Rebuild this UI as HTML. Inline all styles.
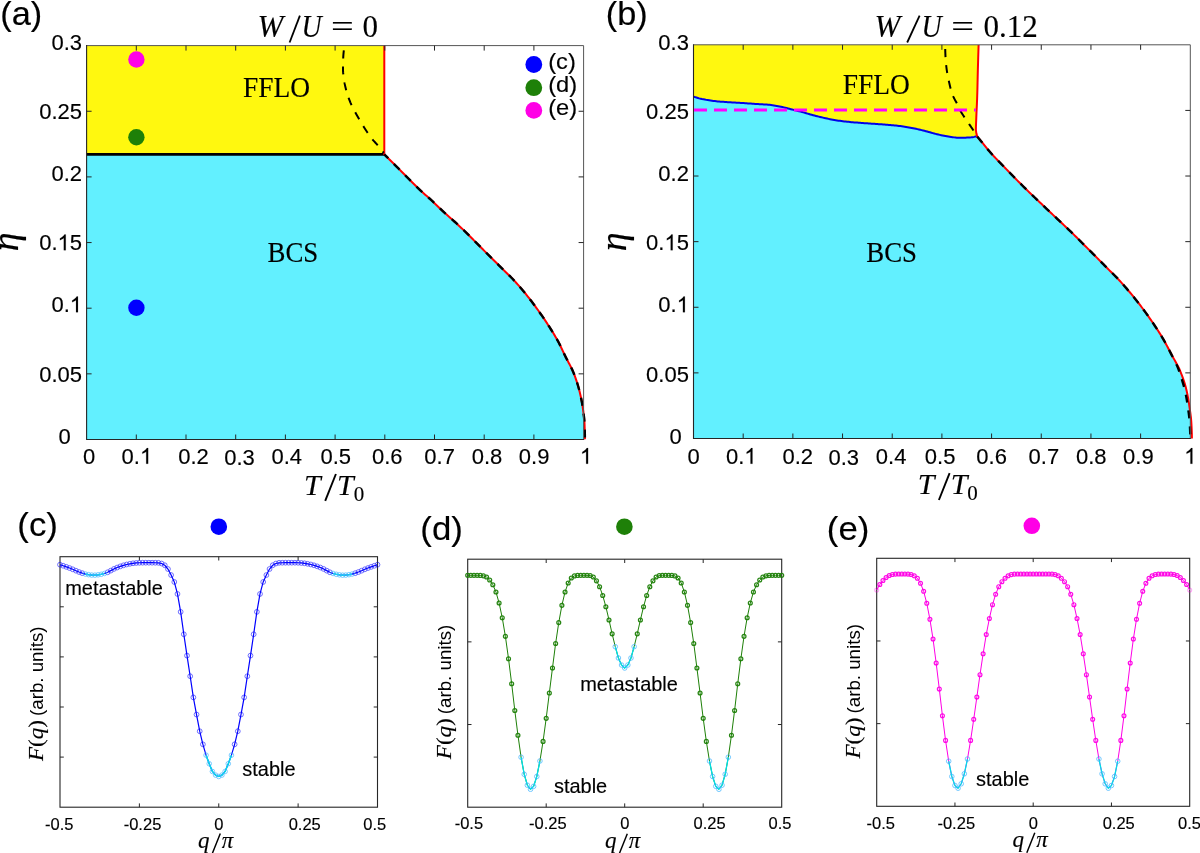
<!DOCTYPE html>
<html><head><meta charset="utf-8"><title>Phase diagram</title>
<style>
html,body{margin:0;padding:0;background:#fff;}
body{width:1200px;height:853px;overflow:hidden;font-family:"Liberation Sans",sans-serif;}
svg{display:block;will-change:transform;}
</style></head><body>
<svg width="1200" height="853" viewBox="0 0 1200 853">
<rect width="1200" height="853" fill="#fff"/>
<g id="pa">
<rect x="86.6" y="45.6" width="297.7" height="108.8" fill="#fff80f"/>
<path d="M86.6 439.5 L86.6 154.4 L384.3 154.4 L385.58 155.67 L386.86 156.94 L388.15 158.21 L389.43 159.48 L390.71 160.75 L391.99 162.02 L393.27 163.3 L394.55 164.57 L395.83 165.84 L397.11 167.11 L398.39 168.39 L399.66 169.66 L400.94 170.94 L402.21 172.23 L403.47 173.51 L404.74 174.8 L406 176.09 L407.27 177.38 L408.53 178.67 L409.8 179.95 L411.07 181.24 L412.34 182.52 L413.62 183.8 L414.9 185.07 L416.18 186.33 L417.48 187.59 L418.78 188.84 L420.08 190.08 L421.41 191.31 L422.74 192.52 L424.09 193.72 L425.44 194.91 L426.8 196.11 L428.15 197.3 L429.5 198.5 L430.84 199.71 L432.17 200.93 L433.48 202.17 L434.78 203.42 L436.08 204.68 L437.37 205.93 L438.67 207.19 L439.96 208.45 L441.27 209.7 L442.58 210.94 L443.9 212.16 L445.24 213.37 L446.59 214.57 L447.94 215.77 L449.3 216.96 L450.66 218.14 L452.01 219.34 L453.36 220.54 L454.7 221.74 L456.03 222.97 L457.35 224.19 L458.67 225.42 L459.99 226.66 L461.3 227.9 L462.61 229.15 L463.91 230.4 L465.21 231.65 L466.5 232.91 L467.79 234.17 L469.07 235.44 L470.34 236.72 L471.61 238 L472.88 239.29 L474.14 240.58 L475.41 241.87 L476.67 243.15 L477.94 244.44 L479.21 245.72 L480.49 246.99 L481.76 248.27 L483.04 249.55 L484.31 250.83 L485.59 252.1 L486.87 253.38 L488.14 254.65 L489.42 255.93 L490.7 257.2 L491.98 258.47 L493.26 259.74 L494.54 261.01 L495.82 262.29 L497.11 263.56 L498.39 264.83 L499.67 266.09 L500.95 267.36 L502.24 268.64 L503.52 269.9 L504.82 271.16 L506.12 272.42 L507.41 273.67 L508.7 274.94 L509.99 276.21 L511.26 277.49 L512.51 278.78 L513.74 280.1 L514.96 281.42 L516.18 282.76 L517.38 284.11 L518.57 285.46 L519.76 286.82 L520.94 288.2 L522.1 289.57 L523.26 290.96 L524.41 292.35 L525.55 293.74 L526.68 295.15 L527.81 296.56 L528.93 297.98 L530.03 299.4 L531.13 300.84 L532.23 302.27 L533.31 303.72 L534.39 305.16 L535.46 306.62 L536.53 308.07 L537.58 309.53 L538.64 311 L539.68 312.47 L540.72 313.95 L541.76 315.43 L542.78 316.91 L543.8 318.4 L544.81 319.9 L545.82 321.4 L546.81 322.91 L547.79 324.42 L548.77 325.94 L549.74 327.46 L550.71 328.98 L551.67 330.51 L552.63 332.05 L553.57 333.59 L554.51 335.13 L555.43 336.68 L556.34 338.25 L557.23 339.81 L558.1 341.39 L558.95 342.98 L559.77 344.58 L560.57 346.19 L561.35 347.82 L562.12 349.46 L562.88 351.1 L563.64 352.73 L564.41 354.37 L565.2 356 L566 357.61 L566.84 359.22 L567.68 360.82 L568.53 362.42 L569.38 364.02 L570.22 365.63 L571.04 367.24 L571.83 368.86 L572.58 370.49 L573.29 372.14 L573.95 373.8 L574.59 375.48 L575.22 377.17 L575.82 378.88 L576.41 380.59 L576.97 382.31 L577.52 384.04 L578.04 385.77 L578.53 387.51 L579.01 389.26 L579.45 391 L579.88 392.75 L580.29 394.5 L580.69 396.26 L581.07 398.03 L581.43 399.81 L581.77 401.58 L582.09 403.36 L582.38 405.14 L582.65 406.92 L582.91 408.71 L583.16 410.49 L583.41 412.28 L583.65 414.08 L583.87 415.87 L584.07 417.67 L584.24 419.47 L584.38 421.27 L584.48 423.06 L584.56 424.86 L584.62 426.66 L584.69 428.47 L584.75 430.27 L584.8 432.07 L584.84 433.88 L584.87 435.68 L584.89 437.49 L584.9 439.3Z" fill="#62f0ff"/>
<line x1="86.6" y1="154.4" x2="384.6" y2="154.4" stroke="#000" stroke-width="2.8"/>
<path d="M384.3 45.6 L384.3 154.4 L385.58 155.67 L386.86 156.94 L388.15 158.21 L389.43 159.48 L390.71 160.75 L391.99 162.02 L393.27 163.3 L394.55 164.57 L395.83 165.84 L397.11 167.11 L398.39 168.39 L399.66 169.66 L400.94 170.94 L402.21 172.23 L403.47 173.51 L404.74 174.8 L406 176.09 L407.27 177.38 L408.53 178.67 L409.8 179.95 L411.07 181.24 L412.34 182.52 L413.62 183.8 L414.9 185.07 L416.18 186.33 L417.48 187.59 L418.78 188.84 L420.08 190.08 L421.41 191.31 L422.74 192.52 L424.09 193.72 L425.44 194.91 L426.8 196.11 L428.15 197.3 L429.5 198.5 L430.84 199.71 L432.17 200.93 L433.48 202.17 L434.78 203.42 L436.08 204.68 L437.37 205.93 L438.67 207.19 L439.96 208.45 L441.27 209.7 L442.58 210.94 L443.9 212.16 L445.24 213.37 L446.59 214.57 L447.94 215.77 L449.3 216.96 L450.66 218.14 L452.01 219.34 L453.36 220.54 L454.7 221.74 L456.03 222.97 L457.35 224.19 L458.67 225.42 L459.99 226.66 L461.3 227.9 L462.61 229.15 L463.91 230.4 L465.21 231.65 L466.5 232.91 L467.79 234.17 L469.07 235.44 L470.34 236.72 L471.61 238 L472.88 239.29 L474.14 240.58 L475.41 241.87 L476.67 243.15 L477.94 244.44 L479.21 245.72 L480.49 246.99 L481.76 248.27 L483.04 249.55 L484.31 250.83 L485.59 252.1 L486.87 253.38 L488.14 254.65 L489.42 255.93 L490.7 257.2 L491.98 258.47 L493.26 259.74 L494.54 261.01 L495.82 262.29 L497.11 263.56 L498.39 264.83 L499.67 266.09 L500.95 267.36 L502.24 268.64 L503.52 269.9 L504.82 271.16 L506.12 272.42 L507.41 273.67 L508.7 274.94 L509.99 276.21 L511.26 277.49 L512.51 278.78 L513.74 280.1 L514.96 281.42 L516.18 282.76 L517.38 284.11 L518.57 285.46 L519.76 286.82 L520.94 288.2 L522.1 289.57 L523.26 290.96 L524.41 292.35 L525.55 293.74 L526.68 295.15 L527.81 296.56 L528.93 297.98 L530.03 299.4 L531.13 300.84 L532.23 302.27 L533.31 303.72 L534.39 305.16 L535.46 306.62 L536.53 308.07 L537.58 309.53 L538.64 311 L539.68 312.47 L540.72 313.95 L541.76 315.43 L542.78 316.91 L543.8 318.4 L544.81 319.9 L545.82 321.4 L546.81 322.91 L547.79 324.42 L548.77 325.94 L549.74 327.46 L550.71 328.98 L551.67 330.51 L552.63 332.05 L553.57 333.59 L554.51 335.13 L555.43 336.68 L556.34 338.25 L557.23 339.81 L558.1 341.39 L558.95 342.98 L559.77 344.58 L560.57 346.19 L561.35 347.82 L562.12 349.46 L562.88 351.1 L563.64 352.73 L564.41 354.37 L565.2 356 L566 357.61 L566.84 359.22 L567.68 360.82 L568.53 362.42 L569.38 364.02 L570.22 365.63 L571.04 367.24 L571.83 368.86 L572.58 370.49 L573.29 372.14 L573.95 373.8 L574.59 375.48 L575.22 377.17 L575.82 378.88 L576.41 380.59 L576.97 382.31 L577.52 384.04 L578.04 385.77 L578.53 387.51 L579.01 389.26 L579.45 391 L579.88 392.75 L580.29 394.5 L580.69 396.26 L581.07 398.03 L581.43 399.81 L581.77 401.58 L582.09 403.36 L582.38 405.14 L582.65 406.92 L582.91 408.71 L583.16 410.49 L583.41 412.28 L583.65 414.08 L583.87 415.87 L584.07 417.67 L584.24 419.47 L584.38 421.27 L584.48 423.06 L584.56 424.86 L584.62 426.66 L584.69 428.47 L584.75 430.27 L584.8 432.07 L584.84 433.88 L584.87 435.68 L584.89 437.49 L584.9 439.3" fill="none" stroke="#ff0000" stroke-width="2" stroke-linejoin="round"/>
<path d="M384.3 154.4 L385.58 155.67 L386.86 156.94 L388.15 158.21 L389.43 159.48 L390.71 160.75 L391.99 162.02 L393.27 163.3 L394.55 164.57 L395.83 165.84 L397.11 167.11 L398.39 168.39 L399.66 169.66 L400.94 170.94 L402.21 172.23 L403.47 173.51 L404.74 174.8 L406 176.09 L407.27 177.38 L408.53 178.67 L409.8 179.95 L411.07 181.24 L412.34 182.52 L413.62 183.8 L414.9 185.07 L416.18 186.33 L417.48 187.59 L418.78 188.84 L420.08 190.08 L421.41 191.31 L422.74 192.52 L424.09 193.72 L425.44 194.91 L426.8 196.11 L428.15 197.3 L429.5 198.5 L430.84 199.71 L432.17 200.93 L433.48 202.17 L434.78 203.42 L436.08 204.68 L437.37 205.93 L438.67 207.19 L439.96 208.45 L441.27 209.7 L442.58 210.94 L443.9 212.16 L445.24 213.37 L446.59 214.57 L447.94 215.77 L449.3 216.96 L450.66 218.14 L452.01 219.34 L453.36 220.54 L454.7 221.74 L456.03 222.97 L457.35 224.19 L458.67 225.42 L459.99 226.66 L461.3 227.9 L462.61 229.15 L463.91 230.4 L465.21 231.65 L466.5 232.91 L467.79 234.17 L469.07 235.44 L470.34 236.72 L471.61 238 L472.88 239.29 L474.14 240.58 L475.41 241.87 L476.67 243.15 L477.94 244.44 L479.21 245.72 L480.49 246.99 L481.76 248.27 L483.04 249.55 L484.31 250.83 L485.59 252.1 L486.87 253.38 L488.14 254.65 L489.42 255.93 L490.7 257.2 L491.98 258.47 L493.26 259.74 L494.54 261.01 L495.82 262.29 L497.11 263.56 L498.39 264.83 L499.67 266.09 L500.95 267.36 L502.24 268.64 L503.52 269.9 L504.82 271.16 L506.12 272.42 L507.41 273.67 L508.7 274.94 L509.99 276.21 L511.26 277.49 L512.51 278.78 L513.74 280.1 L514.96 281.42 L516.18 282.76 L517.38 284.11 L518.57 285.46 L519.76 286.82 L520.94 288.2 L522.1 289.57 L523.26 290.96 L524.41 292.35 L525.55 293.74 L526.68 295.15 L527.81 296.56 L528.93 297.98 L530.03 299.4 L531.13 300.84 L532.23 302.27 L533.31 303.72 L534.39 305.16 L535.46 306.62 L536.53 308.07 L537.58 309.53 L538.64 311 L539.68 312.47 L540.72 313.95 L541.76 315.43 L542.78 316.91 L543.8 318.4 L544.81 319.9 L545.82 321.4 L546.81 322.91 L547.79 324.42 L548.77 325.94 L549.74 327.46 L550.71 328.98 L551.67 330.51 L552.63 332.05 L553.57 333.59 L554.51 335.13 L555.43 336.68 L556.34 338.25 L557.23 339.81 L558.1 341.39 L558.95 342.98 L559.77 344.58 L560.57 346.19 L561.35 347.82 L562.12 349.46 L562.88 351.1 L563.64 352.73 L564.41 354.37 L565.2 356 L566 357.61 L566.84 359.22 L567.68 360.82 L568.53 362.42 L569.38 364.02 L570.22 365.63 L571.04 367.24 L571.83 368.86 L572.58 370.49 L573.29 372.14 L573.95 373.8 L574.59 375.48 L575.22 377.17 L575.82 378.88 L576.41 380.59 L576.97 382.31 L577.52 384.04 L578.04 385.77 L578.53 387.51 L579.01 389.26 L579.45 391 L579.88 392.75 L580.29 394.5 L580.69 396.26 L581.07 398.03 L581.43 399.81 L581.77 401.58 L582.09 403.36 L582.38 405.14 L582.65 406.92 L582.91 408.71 L583.16 410.49 L583.41 412.28 L583.65 414.08 L583.87 415.87 L584.07 417.67 L584.24 419.47 L584.38 421.27 L584.48 423.06 L584.56 424.86 L584.62 426.66 L584.69 428.47 L584.75 430.27 L584.8 432.07 L584.84 433.88 L584.87 435.68 L584.89 437.49 L584.9 439.3" fill="none" stroke="#000" stroke-width="2.4" stroke-dasharray="8 8" stroke-dashoffset="2.5"/>
<path d="M344.3 47 L344.1 48.47 L343.91 49.94 L343.73 51.42 L343.57 52.89 L343.43 54.37 L343.32 55.85 L343.24 57.32 L343.18 58.8 L343.14 60.28 L343.1 61.76 L343.07 63.25 L343.04 64.73 L343.02 66.21 L343.01 67.69 L343 69.17 L343.02 70.65 L343.1 72.13 L343.23 73.61 L343.39 75.09 L343.57 76.56 L343.77 78.04 L343.98 79.51 L344.2 80.97 L344.43 82.43 L344.7 83.89 L345.01 85.34 L345.34 86.79 L345.7 88.23 L346.06 89.66 L346.45 91.09 L346.86 92.51 L347.29 93.94 L347.75 95.35 L348.23 96.76 L348.72 98.16 L349.24 99.55 L349.77 100.93 L350.32 102.29 L350.91 103.65 L351.52 104.99 L352.17 106.33 L352.83 107.66 L353.51 108.98 L354.21 110.29 L354.91 111.6 L355.62 112.91 L356.33 114.21 L357.04 115.51 L357.76 116.8 L358.49 118.09 L359.23 119.38 L359.97 120.66 L360.73 121.94 L361.5 123.21 L362.27 124.48 L363.05 125.74 L363.84 126.99 L364.64 128.24 L365.45 129.48 L366.27 130.71 L367.1 131.94 L367.94 133.17 L368.79 134.38 L369.65 135.59 L370.53 136.78 L371.42 137.97 L372.33 139.14 L373.26 140.28 L374.23 141.4 L375.23 142.5 L376.23 143.6 L377.22 144.7 L378.18 145.83 L379.12 146.97 L380.06 148.12 L380.98 149.28 L381.9 150.44 L382.8 151.62 L383.7 152.8" fill="none" stroke="#000" stroke-width="2" stroke-dasharray="8 8" stroke-dashoffset="12.5"/>
</g>
<path d="M86.6 45.6H583.6V439.5" fill="none" stroke="#555" stroke-width="1"/>
<path d="M86.6 45.6V439.5H583.6" fill="none" stroke="#262626" stroke-width="1.1" stroke-linecap="square"/>
<path d="M136.3 439.5v-5M136.3 45.6v5M186 439.5v-5M186 45.6v5M235.7 439.5v-5M235.7 45.6v5M285.4 439.5v-5M285.4 45.6v5M335.1 439.5v-5M335.1 45.6v5M384.8 439.5v-5M384.8 45.6v5M434.5 439.5v-5M434.5 45.6v5M484.2 439.5v-5M484.2 45.6v5M533.9 439.5v-5M533.9 45.6v5M86.6 373.85h5M583.6 373.85h-5M86.6 308.2h5M583.6 308.2h-5M86.6 242.55h5M583.6 242.55h-5M86.6 176.9h5M583.6 176.9h-5M86.6 111.25h5M583.6 111.25h-5" stroke="#262626" stroke-width="1" fill="none"/>
<circle cx="136.4" cy="59.5" r="8.2" fill="#ff00e6"/>
<circle cx="136.4" cy="137.3" r="8.2" fill="#1e8008"/>
<circle cx="136.4" cy="307.8" r="8.2" fill="#0000ff"/>
<circle cx="533.8" cy="64.5" r="8.4" fill="#0000ff"/>
<circle cx="533.8" cy="87.7" r="8.4" fill="#1e8008"/>
<circle cx="533.8" cy="110.4" r="8.4" fill="#ff00e6"/>
<text x="0" y="0" font-family='"Liberation Sans", sans-serif' font-size="21.5" text-anchor="start" transform="translate(548.2 68.7) scale(1.1 1)" fill="#000" stroke="#000" stroke-width="0.15">(c)</text>
<text x="0" y="0" font-family='"Liberation Sans", sans-serif' font-size="21.5" text-anchor="start" transform="translate(548.2 92.1) scale(1.1 1)" fill="#000" stroke="#000" stroke-width="0.15">(d)</text>
<text x="0" y="0" font-family='"Liberation Sans", sans-serif' font-size="21.5" text-anchor="start" transform="translate(548.2 114.6) scale(1.1 1)" fill="#000" stroke="#000" stroke-width="0.15">(e)</text>
<g id="pb">
<path d="M693.5 44.8 L693.7 96.7 L695.08 97.14 L696.47 97.57 L697.86 97.97 L699.25 98.36 L700.65 98.71 L702.05 99.04 L703.46 99.33 L704.87 99.6 L706.29 99.86 L707.71 100.1 L709.14 100.33 L710.57 100.54 L712.01 100.75 L713.44 100.93 L714.88 101.1 L716.31 101.26 L717.75 101.4 L719.18 101.53 L720.62 101.65 L722.06 101.76 L723.5 101.87 L724.94 101.97 L726.38 102.06 L727.83 102.16 L729.27 102.25 L730.71 102.35 L732.15 102.44 L733.59 102.53 L735.03 102.61 L736.47 102.7 L737.91 102.78 L739.36 102.86 L740.8 102.95 L742.24 103.03 L743.68 103.12 L745.12 103.22 L746.56 103.31 L748 103.41 L749.44 103.51 L750.88 103.6 L752.32 103.7 L753.76 103.8 L755.21 103.9 L756.65 104 L758.09 104.09 L759.53 104.18 L760.97 104.26 L762.42 104.34 L763.86 104.43 L765.3 104.52 L766.74 104.62 L768.18 104.74 L769.61 104.86 L771.05 105.01 L772.48 105.2 L773.9 105.42 L775.33 105.66 L776.75 105.92 L778.17 106.2 L779.59 106.48 L781 106.76 L782.41 107.06 L783.82 107.39 L785.22 107.74 L786.62 108.09 L788.02 108.46 L789.42 108.82 L790.82 109.18 L792.22 109.53 L793.62 109.87 L795.02 110.22 L796.43 110.57 L797.83 110.92 L799.23 111.27 L800.62 111.63 L802.02 112.01 L803.41 112.39 L804.8 112.79 L806.18 113.2 L807.57 113.62 L808.95 114.03 L810.33 114.44 L811.72 114.83 L813.12 115.21 L814.51 115.58 L815.91 115.94 L817.31 116.29 L818.72 116.63 L820.12 116.97 L821.53 117.3 L822.93 117.62 L824.34 117.93 L825.75 118.25 L827.16 118.56 L828.58 118.87 L829.99 119.17 L831.41 119.46 L832.82 119.74 L834.24 120 L835.67 120.24 L837.09 120.46 L838.52 120.67 L839.95 120.86 L841.38 121.05 L842.81 121.23 L844.25 121.4 L845.68 121.56 L847.12 121.71 L848.56 121.86 L849.99 122 L851.43 122.13 L852.87 122.26 L854.31 122.38 L855.75 122.5 L857.19 122.61 L858.63 122.72 L860.07 122.82 L861.51 122.93 L862.95 123.03 L864.39 123.13 L865.83 123.23 L867.27 123.34 L868.71 123.44 L870.15 123.55 L871.59 123.65 L873.03 123.75 L874.47 123.85 L875.91 123.95 L877.35 124.05 L878.79 124.15 L880.23 124.25 L881.67 124.36 L883.11 124.47 L884.55 124.58 L885.99 124.69 L887.43 124.8 L888.87 124.92 L890.31 125.03 L891.75 125.16 L893.19 125.29 L894.63 125.43 L896.06 125.57 L897.49 125.73 L898.93 125.91 L900.36 126.1 L901.79 126.3 L903.22 126.51 L904.65 126.73 L906.07 126.96 L907.5 127.2 L908.92 127.44 L910.34 127.69 L911.76 127.95 L913.18 128.23 L914.59 128.52 L916 128.82 L917.41 129.14 L918.82 129.46 L920.23 129.79 L921.63 130.13 L923.04 130.47 L924.44 130.81 L925.84 131.16 L927.23 131.54 L928.63 131.92 L930.02 132.32 L931.41 132.72 L932.8 133.12 L934.19 133.51 L935.58 133.88 L936.98 134.24 L938.38 134.57 L939.79 134.89 L941.2 135.2 L942.61 135.51 L944.03 135.81 L945.45 136.09 L946.87 136.35 L948.29 136.58 L949.72 136.79 L951.15 136.98 L952.58 137.19 L954.02 137.38 L955.45 137.55 L956.89 137.69 L958.33 137.77 L959.77 137.8 L961.21 137.79 L962.66 137.77 L964.11 137.73 L965.55 137.68 L967 137.62 L968.44 137.55 L969.87 137.48 L971.3 137.34 L972.73 137.14 L974.16 136.89 L975.58 136.6 L977 136.3 L977.2 136.4 L976.34 133.32 L975.9 130.22 L975.94 127.08 L976.04 123.92 L976.17 120.76 L976.29 117.59 L976.42 114.44 L976.55 111.28 L976.7 108.13 L976.85 104.97 L976.99 101.82 L977.12 98.66 L977.22 95.51 L977.32 92.35 L977.4 89.19 L977.48 86.04 L977.55 82.88 L977.62 79.72 L977.69 76.57 L977.76 73.41 L977.84 70.25 L977.93 67.09 L978.02 63.94 L978.11 60.78 L978.2 57.63 L978.3 54.47 L978.4 51.31 L978.5 48.16 L978.6 45Z" fill="#fff80f"/>
<path d="M693.5 438.5 L693.7 96.7 L695.08 97.14 L696.47 97.57 L697.86 97.97 L699.25 98.36 L700.65 98.71 L702.05 99.04 L703.46 99.33 L704.87 99.6 L706.29 99.86 L707.71 100.1 L709.14 100.33 L710.57 100.54 L712.01 100.75 L713.44 100.93 L714.88 101.1 L716.31 101.26 L717.75 101.4 L719.18 101.53 L720.62 101.65 L722.06 101.76 L723.5 101.87 L724.94 101.97 L726.38 102.06 L727.83 102.16 L729.27 102.25 L730.71 102.35 L732.15 102.44 L733.59 102.53 L735.03 102.61 L736.47 102.7 L737.91 102.78 L739.36 102.86 L740.8 102.95 L742.24 103.03 L743.68 103.12 L745.12 103.22 L746.56 103.31 L748 103.41 L749.44 103.51 L750.88 103.6 L752.32 103.7 L753.76 103.8 L755.21 103.9 L756.65 104 L758.09 104.09 L759.53 104.18 L760.97 104.26 L762.42 104.34 L763.86 104.43 L765.3 104.52 L766.74 104.62 L768.18 104.74 L769.61 104.86 L771.05 105.01 L772.48 105.2 L773.9 105.42 L775.33 105.66 L776.75 105.92 L778.17 106.2 L779.59 106.48 L781 106.76 L782.41 107.06 L783.82 107.39 L785.22 107.74 L786.62 108.09 L788.02 108.46 L789.42 108.82 L790.82 109.18 L792.22 109.53 L793.62 109.87 L795.02 110.22 L796.43 110.57 L797.83 110.92 L799.23 111.27 L800.62 111.63 L802.02 112.01 L803.41 112.39 L804.8 112.79 L806.18 113.2 L807.57 113.62 L808.95 114.03 L810.33 114.44 L811.72 114.83 L813.12 115.21 L814.51 115.58 L815.91 115.94 L817.31 116.29 L818.72 116.63 L820.12 116.97 L821.53 117.3 L822.93 117.62 L824.34 117.93 L825.75 118.25 L827.16 118.56 L828.58 118.87 L829.99 119.17 L831.41 119.46 L832.82 119.74 L834.24 120 L835.67 120.24 L837.09 120.46 L838.52 120.67 L839.95 120.86 L841.38 121.05 L842.81 121.23 L844.25 121.4 L845.68 121.56 L847.12 121.71 L848.56 121.86 L849.99 122 L851.43 122.13 L852.87 122.26 L854.31 122.38 L855.75 122.5 L857.19 122.61 L858.63 122.72 L860.07 122.82 L861.51 122.93 L862.95 123.03 L864.39 123.13 L865.83 123.23 L867.27 123.34 L868.71 123.44 L870.15 123.55 L871.59 123.65 L873.03 123.75 L874.47 123.85 L875.91 123.95 L877.35 124.05 L878.79 124.15 L880.23 124.25 L881.67 124.36 L883.11 124.47 L884.55 124.58 L885.99 124.69 L887.43 124.8 L888.87 124.92 L890.31 125.03 L891.75 125.16 L893.19 125.29 L894.63 125.43 L896.06 125.57 L897.49 125.73 L898.93 125.91 L900.36 126.1 L901.79 126.3 L903.22 126.51 L904.65 126.73 L906.07 126.96 L907.5 127.2 L908.92 127.44 L910.34 127.69 L911.76 127.95 L913.18 128.23 L914.59 128.52 L916 128.82 L917.41 129.14 L918.82 129.46 L920.23 129.79 L921.63 130.13 L923.04 130.47 L924.44 130.81 L925.84 131.16 L927.23 131.54 L928.63 131.92 L930.02 132.32 L931.41 132.72 L932.8 133.12 L934.19 133.51 L935.58 133.88 L936.98 134.24 L938.38 134.57 L939.79 134.89 L941.2 135.2 L942.61 135.51 L944.03 135.81 L945.45 136.09 L946.87 136.35 L948.29 136.58 L949.72 136.79 L951.15 136.98 L952.58 137.19 L954.02 137.38 L955.45 137.55 L956.89 137.69 L958.33 137.77 L959.77 137.8 L961.21 137.79 L962.66 137.77 L964.11 137.73 L965.55 137.68 L967 137.62 L968.44 137.55 L969.87 137.48 L971.3 137.34 L972.73 137.14 L974.16 136.89 L975.58 136.6 L977 136.3 L977.2 136.6 L978.44 138.06 L979.68 139.52 L980.9 140.99 L982.12 142.47 L983.32 143.96 L984.52 145.45 L985.72 146.94 L986.93 148.42 L988.16 149.89 L989.4 151.33 L990.67 152.76 L991.95 154.18 L993.24 155.59 L994.55 156.99 L995.86 158.38 L997.18 159.77 L998.5 161.15 L999.84 162.53 L1001.17 163.9 L1002.51 165.27 L1003.85 166.64 L1005.19 168.01 L1006.53 169.38 L1007.86 170.75 L1009.19 172.12 L1010.53 173.49 L1011.86 174.86 L1013.2 176.23 L1014.54 177.6 L1015.88 178.97 L1017.22 180.33 L1018.56 181.69 L1019.91 183.05 L1021.26 184.4 L1022.61 185.76 L1023.97 187.11 L1025.33 188.45 L1026.69 189.8 L1028.06 191.13 L1029.43 192.47 L1030.81 193.79 L1032.19 195.11 L1033.58 196.43 L1034.97 197.75 L1036.35 199.07 L1037.74 200.39 L1039.13 201.71 L1040.51 203.03 L1041.9 204.34 L1043.29 205.66 L1044.67 206.98 L1046.06 208.3 L1047.45 209.61 L1048.84 210.93 L1050.23 212.24 L1051.62 213.55 L1053.02 214.86 L1054.41 216.17 L1055.81 217.48 L1057.2 218.79 L1058.6 220.1 L1059.99 221.41 L1061.38 222.73 L1062.77 224.04 L1064.16 225.36 L1065.55 226.68 L1066.93 227.99 L1068.32 229.31 L1069.7 230.64 L1071.08 231.96 L1072.46 233.29 L1073.83 234.63 L1075.19 235.97 L1076.55 237.31 L1077.9 238.67 L1079.25 240.02 L1080.6 241.38 L1081.95 242.74 L1083.3 244.09 L1084.65 245.45 L1086 246.8 L1087.36 248.15 L1088.71 249.51 L1090.06 250.86 L1091.42 252.21 L1092.77 253.56 L1094.12 254.92 L1095.48 256.27 L1096.83 257.62 L1098.18 258.98 L1099.52 260.34 L1100.87 261.7 L1102.22 263.06 L1103.56 264.42 L1104.91 265.78 L1106.25 267.14 L1107.6 268.49 L1108.95 269.85 L1110.31 271.2 L1111.67 272.55 L1113.04 273.89 L1114.4 275.23 L1115.75 276.59 L1117.08 277.96 L1118.39 279.35 L1119.69 280.75 L1120.98 282.16 L1122.26 283.58 L1123.54 285.01 L1124.8 286.45 L1126.06 287.9 L1127.3 289.35 L1128.54 290.81 L1129.78 292.27 L1131 293.73 L1132.22 295.21 L1133.44 296.69 L1134.64 298.18 L1135.84 299.67 L1137.03 301.17 L1138.21 302.68 L1139.38 304.19 L1140.55 305.71 L1141.7 307.23 L1142.85 308.76 L1143.99 310.3 L1145.12 311.84 L1146.25 313.39 L1147.37 314.94 L1148.48 316.5 L1149.58 318.07 L1150.67 319.64 L1151.76 321.21 L1152.83 322.79 L1153.9 324.38 L1154.96 325.97 L1156.02 327.57 L1157.07 329.17 L1158.11 330.77 L1159.15 332.39 L1160.17 334.01 L1161.17 335.64 L1162.16 337.27 L1163.13 338.92 L1164.09 340.57 L1165.02 342.24 L1165.94 343.92 L1166.84 345.61 L1167.73 347.3 L1168.62 349 L1169.5 350.7 L1170.38 352.39 L1171.28 354.09 L1172.18 355.78 L1173.11 357.45 L1174.05 359.13 L1175 360.8 L1175.95 362.48 L1176.87 364.16 L1177.77 365.85 L1178.63 367.55 L1179.44 369.27 L1180.19 371.01 L1180.9 372.78 L1181.6 374.55 L1182.28 376.35 L1182.93 378.15 L1183.56 379.97 L1184.17 381.8 L1184.74 383.63 L1185.28 385.48 L1185.79 387.32 L1186.25 389.17 L1186.68 391.02 L1187.08 392.89 L1187.46 394.76 L1187.83 396.64 L1188.17 398.52 L1188.49 400.42 L1188.8 402.31 L1189.1 404.21 L1189.37 406.1 L1189.64 407.99 L1189.9 409.89 L1190.17 411.79 L1190.42 413.68 L1190.66 415.59 L1190.89 417.49 L1191.08 419.39 L1191.25 421.3 L1191.38 423.2 L1191.48 425.11 L1191.57 427.02 L1191.66 428.93 L1191.74 430.84 L1191.8 432.75 L1191.86 434.67 L1191.89 436.58 L1191.9 438.5Z" fill="#62f0ff"/>
<path d="M693.7 96.7 L695.08 97.14 L696.47 97.57 L697.86 97.97 L699.25 98.36 L700.65 98.71 L702.05 99.04 L703.46 99.33 L704.87 99.6 L706.29 99.86 L707.71 100.1 L709.14 100.33 L710.57 100.54 L712.01 100.75 L713.44 100.93 L714.88 101.1 L716.31 101.26 L717.75 101.4 L719.18 101.53 L720.62 101.65 L722.06 101.76 L723.5 101.87 L724.94 101.97 L726.38 102.06 L727.83 102.16 L729.27 102.25 L730.71 102.35 L732.15 102.44 L733.59 102.53 L735.03 102.61 L736.47 102.7 L737.91 102.78 L739.36 102.86 L740.8 102.95 L742.24 103.03 L743.68 103.12 L745.12 103.22 L746.56 103.31 L748 103.41 L749.44 103.51 L750.88 103.6 L752.32 103.7 L753.76 103.8 L755.21 103.9 L756.65 104 L758.09 104.09 L759.53 104.18 L760.97 104.26 L762.42 104.34 L763.86 104.43 L765.3 104.52 L766.74 104.62 L768.18 104.74 L769.61 104.86 L771.05 105.01 L772.48 105.2 L773.9 105.42 L775.33 105.66 L776.75 105.92 L778.17 106.2 L779.59 106.48 L781 106.76 L782.41 107.06 L783.82 107.39 L785.22 107.74 L786.62 108.09 L788.02 108.46 L789.42 108.82 L790.82 109.18 L792.22 109.53 L793.62 109.87 L795.02 110.22 L796.43 110.57 L797.83 110.92 L799.23 111.27 L800.62 111.63 L802.02 112.01 L803.41 112.39 L804.8 112.79 L806.18 113.2 L807.57 113.62 L808.95 114.03 L810.33 114.44 L811.72 114.83 L813.12 115.21 L814.51 115.58 L815.91 115.94 L817.31 116.29 L818.72 116.63 L820.12 116.97 L821.53 117.3 L822.93 117.62 L824.34 117.93 L825.75 118.25 L827.16 118.56 L828.58 118.87 L829.99 119.17 L831.41 119.46 L832.82 119.74 L834.24 120 L835.67 120.24 L837.09 120.46 L838.52 120.67 L839.95 120.86 L841.38 121.05 L842.81 121.23 L844.25 121.4 L845.68 121.56 L847.12 121.71 L848.56 121.86 L849.99 122 L851.43 122.13 L852.87 122.26 L854.31 122.38 L855.75 122.5 L857.19 122.61 L858.63 122.72 L860.07 122.82 L861.51 122.93 L862.95 123.03 L864.39 123.13 L865.83 123.23 L867.27 123.34 L868.71 123.44 L870.15 123.55 L871.59 123.65 L873.03 123.75 L874.47 123.85 L875.91 123.95 L877.35 124.05 L878.79 124.15 L880.23 124.25 L881.67 124.36 L883.11 124.47 L884.55 124.58 L885.99 124.69 L887.43 124.8 L888.87 124.92 L890.31 125.03 L891.75 125.16 L893.19 125.29 L894.63 125.43 L896.06 125.57 L897.49 125.73 L898.93 125.91 L900.36 126.1 L901.79 126.3 L903.22 126.51 L904.65 126.73 L906.07 126.96 L907.5 127.2 L908.92 127.44 L910.34 127.69 L911.76 127.95 L913.18 128.23 L914.59 128.52 L916 128.82 L917.41 129.14 L918.82 129.46 L920.23 129.79 L921.63 130.13 L923.04 130.47 L924.44 130.81 L925.84 131.16 L927.23 131.54 L928.63 131.92 L930.02 132.32 L931.41 132.72 L932.8 133.12 L934.19 133.51 L935.58 133.88 L936.98 134.24 L938.38 134.57 L939.79 134.89 L941.2 135.2 L942.61 135.51 L944.03 135.81 L945.45 136.09 L946.87 136.35 L948.29 136.58 L949.72 136.79 L951.15 136.98 L952.58 137.19 L954.02 137.38 L955.45 137.55 L956.89 137.69 L958.33 137.77 L959.77 137.8 L961.21 137.79 L962.66 137.77 L964.11 137.73 L965.55 137.68 L967 137.62 L968.44 137.55 L969.87 137.48 L971.3 137.34 L972.73 137.14 L974.16 136.89 L975.58 136.6 L977 136.3" fill="none" stroke="#0000e8" stroke-width="2"/>
<path d="M945.2 46.5 L945.21 47.72 L945.22 48.95 L945.25 50.17 L945.28 51.39 L945.32 52.62 L945.37 53.84 L945.42 55.06 L945.47 56.28 L945.53 57.5 L945.6 58.72 L945.68 59.94 L945.78 61.16 L945.88 62.38 L946 63.6 L946.13 64.82 L946.26 66.03 L946.4 67.25 L946.54 68.46 L946.7 69.67 L946.88 70.88 L947.07 72.08 L947.28 73.29 L947.49 74.5 L947.72 75.7 L947.96 76.9 L948.21 78.1 L948.47 79.3 L948.72 80.5 L948.99 81.69 L949.25 82.88 L949.52 84.07 L949.8 85.27 L950.09 86.46 L950.39 87.66 L950.71 88.85 L951.04 90.03 L951.38 91.21 L951.74 92.37 L952.12 93.53 L952.52 94.67 L952.95 95.8 L953.44 96.91 L953.98 98 L954.55 99.09 L955.14 100.17 L955.73 101.25 L956.31 102.34 L956.86 103.43 L957.4 104.53 L957.93 105.63 L958.45 106.74 L958.98 107.85 L959.51 108.95 L960.06 110.04 L960.63 111.12 L961.22 112.18 L961.84 113.23 L962.48 114.27 L963.14 115.3 L963.81 116.32 L964.5 117.34 L965.19 118.35 L965.88 119.36 L966.57 120.37 L967.26 121.39 L967.94 122.4 L968.63 123.41 L969.32 124.42 L970.02 125.43 L970.72 126.43 L971.41 127.44 L972.11 128.44 L972.8 129.45 L973.48 130.47 L974.15 131.49 L974.82 132.51 L975.49 133.54 L976.14 134.57 L976.8 135.6" fill="none" stroke="#000" stroke-width="2" stroke-dasharray="8 8" stroke-dashoffset="13.4"/>
<path d="M978.6 45 L978.5 48.16 L978.4 51.31 L978.3 54.47 L978.2 57.63 L978.11 60.78 L978.02 63.94 L977.93 67.09 L977.84 70.25 L977.76 73.41 L977.69 76.57 L977.62 79.72 L977.55 82.88 L977.48 86.04 L977.4 89.19 L977.32 92.35 L977.22 95.51 L977.12 98.66 L976.99 101.82 L976.85 104.97 L976.7 108.13 L976.55 111.28 L976.42 114.44 L976.29 117.59 L976.17 120.76 L976.04 123.92 L975.94 127.08 L975.9 130.22 L976.34 133.32 L977.2 136.4 L977.2 136.6 L978.44 138.06 L979.68 139.52 L980.9 140.99 L982.12 142.47 L983.32 143.96 L984.52 145.45 L985.72 146.94 L986.93 148.42 L988.16 149.89 L989.4 151.33 L990.67 152.76 L991.95 154.18 L993.24 155.59 L994.55 156.99 L995.86 158.38 L997.18 159.77 L998.5 161.15 L999.84 162.53 L1001.17 163.9 L1002.51 165.27 L1003.85 166.64 L1005.19 168.01 L1006.53 169.38 L1007.86 170.75 L1009.19 172.12 L1010.53 173.49 L1011.86 174.86 L1013.2 176.23 L1014.54 177.6 L1015.88 178.97 L1017.22 180.33 L1018.56 181.69 L1019.91 183.05 L1021.26 184.4 L1022.61 185.76 L1023.97 187.11 L1025.33 188.45 L1026.69 189.8 L1028.06 191.13 L1029.43 192.47 L1030.81 193.79 L1032.19 195.11 L1033.58 196.43 L1034.97 197.75 L1036.35 199.07 L1037.74 200.39 L1039.13 201.71 L1040.51 203.03 L1041.9 204.34 L1043.29 205.66 L1044.67 206.98 L1046.06 208.3 L1047.45 209.61 L1048.84 210.93 L1050.23 212.24 L1051.62 213.55 L1053.02 214.86 L1054.41 216.17 L1055.81 217.48 L1057.2 218.79 L1058.6 220.1 L1059.99 221.41 L1061.38 222.73 L1062.77 224.04 L1064.16 225.36 L1065.55 226.68 L1066.93 227.99 L1068.32 229.31 L1069.7 230.64 L1071.08 231.96 L1072.46 233.29 L1073.83 234.63 L1075.19 235.97 L1076.55 237.31 L1077.9 238.67 L1079.25 240.02 L1080.6 241.38 L1081.95 242.74 L1083.3 244.09 L1084.65 245.45 L1086 246.8 L1087.36 248.15 L1088.71 249.51 L1090.06 250.86 L1091.42 252.21 L1092.77 253.56 L1094.12 254.92 L1095.48 256.27 L1096.83 257.62 L1098.18 258.98 L1099.52 260.34 L1100.87 261.7 L1102.22 263.06 L1103.56 264.42 L1104.91 265.78 L1106.25 267.14 L1107.6 268.49 L1108.95 269.85 L1110.31 271.2 L1111.67 272.55 L1113.04 273.89 L1114.4 275.23 L1115.75 276.59 L1117.08 277.96 L1118.39 279.35 L1119.69 280.75 L1120.98 282.16 L1122.26 283.58 L1123.54 285.01 L1124.8 286.45 L1126.06 287.9 L1127.3 289.35 L1128.54 290.81 L1129.78 292.27 L1131 293.73 L1132.22 295.21 L1133.44 296.69 L1134.64 298.18 L1135.84 299.67 L1137.03 301.17 L1138.21 302.68 L1139.38 304.19 L1140.55 305.71 L1141.7 307.23 L1142.85 308.76 L1143.99 310.3 L1145.12 311.84 L1146.25 313.39 L1147.37 314.94 L1148.48 316.5 L1149.58 318.07 L1150.67 319.64 L1151.76 321.21 L1152.83 322.79 L1153.9 324.38 L1154.96 325.97 L1156.02 327.57 L1157.07 329.17 L1158.11 330.77 L1159.15 332.39 L1160.17 334.01 L1161.17 335.64 L1162.16 337.27 L1163.13 338.92 L1164.09 340.57 L1165.02 342.24 L1165.94 343.92 L1166.84 345.61 L1167.73 347.3 L1168.62 349 L1169.5 350.7 L1170.38 352.39 L1171.28 354.09 L1172.18 355.78 L1173.11 357.45 L1174.05 359.13 L1175 360.8 L1175.95 362.48 L1176.87 364.16 L1177.77 365.85 L1178.63 367.55 L1179.44 369.27 L1180.19 371.01 L1180.9 372.78 L1181.6 374.55 L1182.28 376.35 L1182.93 378.15 L1183.56 379.97 L1184.17 381.8 L1184.74 383.63 L1185.28 385.48 L1185.79 387.32 L1186.25 389.17 L1186.68 391.02 L1187.08 392.89 L1187.46 394.76 L1187.83 396.64 L1188.17 398.52 L1188.49 400.42 L1188.8 402.31 L1189.1 404.21 L1189.37 406.1 L1189.64 407.99 L1189.9 409.89 L1190.17 411.79 L1190.42 413.68 L1190.66 415.59 L1190.89 417.49 L1191.08 419.39 L1191.25 421.3 L1191.38 423.2 L1191.48 425.11 L1191.57 427.02 L1191.66 428.93 L1191.74 430.84 L1191.8 432.75 L1191.86 434.67 L1191.89 436.58 L1191.9 438.5" fill="none" stroke="#ff0000" stroke-width="2" stroke-linejoin="round"/>
<path d="M977.2 136.6 L978.44 138.06 L979.68 139.52 L980.9 140.99 L982.12 142.47 L983.32 143.96 L984.52 145.45 L985.72 146.94 L986.93 148.42 L988.16 149.89 L989.4 151.33 L990.67 152.76 L991.95 154.18 L993.24 155.59 L994.55 156.99 L995.86 158.38 L997.18 159.77 L998.5 161.15 L999.84 162.53 L1001.17 163.9 L1002.51 165.27 L1003.85 166.64 L1005.19 168.01 L1006.53 169.38 L1007.86 170.75 L1009.19 172.12 L1010.53 173.49 L1011.86 174.86 L1013.2 176.23 L1014.54 177.6 L1015.88 178.97 L1017.22 180.33 L1018.56 181.69 L1019.91 183.05 L1021.26 184.4 L1022.61 185.76 L1023.97 187.11 L1025.33 188.45 L1026.69 189.8 L1028.06 191.13 L1029.43 192.47 L1030.81 193.79 L1032.19 195.11 L1033.58 196.43 L1034.97 197.75 L1036.35 199.07 L1037.74 200.39 L1039.13 201.71 L1040.51 203.03 L1041.9 204.34 L1043.29 205.66 L1044.67 206.98 L1046.06 208.3 L1047.45 209.61 L1048.84 210.93 L1050.23 212.24 L1051.62 213.55 L1053.02 214.86 L1054.41 216.17 L1055.81 217.48 L1057.2 218.79 L1058.6 220.1 L1059.99 221.41 L1061.38 222.73 L1062.77 224.04 L1064.16 225.36 L1065.55 226.68 L1066.93 227.99 L1068.32 229.31 L1069.7 230.64 L1071.08 231.96 L1072.46 233.29 L1073.83 234.63 L1075.19 235.97 L1076.55 237.31 L1077.9 238.67 L1079.25 240.02 L1080.6 241.38 L1081.95 242.74 L1083.3 244.09 L1084.65 245.45 L1086 246.8 L1087.36 248.15 L1088.71 249.51 L1090.06 250.86 L1091.42 252.21 L1092.77 253.56 L1094.12 254.92 L1095.48 256.27 L1096.83 257.62 L1098.18 258.98 L1099.52 260.34 L1100.87 261.7 L1102.22 263.06 L1103.56 264.42 L1104.91 265.78 L1106.25 267.14 L1107.6 268.49 L1108.95 269.85 L1110.31 271.2 L1111.67 272.55 L1113.04 273.89 L1114.4 275.23 L1115.75 276.59 L1117.08 277.96 L1118.39 279.35 L1119.69 280.75 L1120.98 282.16 L1122.26 283.58 L1123.54 285.01 L1124.8 286.45 L1126.06 287.9 L1127.3 289.35 L1128.54 290.81 L1129.78 292.27 L1131 293.73 L1132.22 295.21 L1133.44 296.69 L1134.64 298.18 L1135.84 299.67 L1137.03 301.17 L1138.21 302.68 L1139.38 304.19 L1140.55 305.71 L1141.7 307.23 L1142.85 308.76 L1143.99 310.3 L1145.12 311.84 L1146.25 313.39 L1147.37 314.94 L1148.48 316.5 L1149.58 318.07 L1150.67 319.64 L1151.76 321.21 L1152.83 322.79 L1153.9 324.38 L1154.96 325.97 L1156.02 327.57 L1157.07 329.17 L1158.11 330.77 L1159.15 332.39 L1160.17 334.01 L1161.17 335.64 L1162.16 337.27 L1163.13 338.92 L1164.09 340.57 L1165.02 342.24 L1165.94 343.92 L1166.84 345.61 L1167.73 347.3 L1168.62 349 L1169.5 350.7 L1170.36 352.39 L1171.22 354.09 L1172.06 355.78 L1172.92 357.45 L1173.78 359.13 L1174.64 360.8 L1175.48 362.48 L1176.3 364.16 L1177.09 365.85 L1177.83 367.55 L1178.52 369.27 L1179.15 371.01 L1179.75 372.78 L1180.34 374.55 L1180.92 376.35 L1181.49 378.15 L1182.05 379.97 L1182.61 381.8 L1183.15 383.63 L1183.68 385.48 L1184.19 387.32 L1184.65 389.17 L1185.08 391.02 L1185.48 392.89 L1185.86 394.76 L1186.23 396.64 L1186.57 398.52 L1186.89 400.42 L1187.2 402.31 L1187.5 404.21 L1187.77 406.1 L1188.04 407.99 L1188.3 409.89 L1188.57 411.79 L1188.82 413.68 L1189.06 415.59 L1189.29 417.49 L1189.48 419.39 L1189.65 421.3 L1189.78 423.2 L1189.88 425.11 L1189.97 427.02 L1190.06 428.93 L1190.14 430.84 L1190.2 432.75 L1190.26 434.67 L1190.29 436.58 L1190.3 438.5" fill="none" stroke="#000" stroke-width="2.4" stroke-dasharray="8 8" stroke-dashoffset="0"/>
</g>
<path d="M693.5 44.8H1190.3V438.5" fill="none" stroke="#555" stroke-width="1"/>
<path d="M693.5 44.8V438.5H1190.3" fill="none" stroke="#262626" stroke-width="1.1" stroke-linecap="square"/>
<path d="M743.18 438.5v-5M743.18 44.8v5M792.86 438.5v-5M792.86 44.8v5M842.54 438.5v-5M842.54 44.8v5M892.22 438.5v-5M892.22 44.8v5M941.9 438.5v-5M941.9 44.8v5M991.58 438.5v-5M991.58 44.8v5M1041.26 438.5v-5M1041.26 44.8v5M1090.94 438.5v-5M1090.94 44.8v5M1140.62 438.5v-5M1140.62 44.8v5M693.5 372.88h5M1190.3 372.88h-5M693.5 307.27h5M1190.3 307.27h-5M693.5 241.65h5M1190.3 241.65h-5M693.5 176.03h5M1190.3 176.03h-5M693.5 110.42h5M1190.3 110.42h-5" stroke="#262626" stroke-width="1" fill="none"/>
<path d="M694 110H975.8" stroke="#ff00ff" stroke-width="3.2" stroke-dasharray="13 7" fill="none"/>
<text x="0" y="0" font-family='"Liberation Sans", sans-serif' font-size="22" text-anchor="end" transform="translate(70.8 443.6) scale(1 1)" fill="#000" stroke="#000" stroke-width="0.15">0</text>
<text x="0" y="0" font-family='"Liberation Sans", sans-serif' font-size="22" text-anchor="end" transform="translate(82 381.55) scale(1 1)" fill="#000" stroke="#000" stroke-width="0.15">0.05</text>
<text x="51.42" y="312.3" font-family='"Liberation Sans", sans-serif' font-size="22" text-anchor="start" fill="#000" stroke="#000" stroke-width="0.15">0.</text>
<path d="M763 0H583V1147Q518 1085 412.5 1023T223 930V1104Q373 1174.5 485.5 1275T645 1470H763Z" transform="translate(69.77 312.3) scale(0.01074 -0.01074)" fill="#000" stroke="#000" stroke-width="13.96"/>
<text x="39.19" y="250.25" font-family='"Liberation Sans", sans-serif' font-size="22" text-anchor="start" fill="#000" stroke="#000" stroke-width="0.15">0.</text>
<path d="M763 0H583V1147Q518 1085 412.5 1023T223 930V1104Q373 1174.5 485.5 1275T645 1470H763Z" transform="translate(57.54 250.25) scale(0.01074 -0.01074)" fill="#000" stroke="#000" stroke-width="13.96"/>
<text x="69.77" y="250.25" font-family='"Liberation Sans", sans-serif' font-size="22" text-anchor="start" fill="#000" stroke="#000" stroke-width="0.15">5</text>
<text x="0" y="0" font-family='"Liberation Sans", sans-serif' font-size="22" text-anchor="end" transform="translate(82 181) scale(1 1)" fill="#000" stroke="#000" stroke-width="0.15">0.2</text>
<text x="0" y="0" font-family='"Liberation Sans", sans-serif' font-size="22" text-anchor="end" transform="translate(82 118.95) scale(1 1)" fill="#000" stroke="#000" stroke-width="0.15">0.25</text>
<text x="0" y="0" font-family='"Liberation Sans", sans-serif' font-size="22" text-anchor="end" transform="translate(82 49.7) scale(1 1)" fill="#000" stroke="#000" stroke-width="0.15">0.3</text>
<text x="0" y="0" font-family='"Liberation Sans", sans-serif' font-size="22" text-anchor="end" transform="translate(681.7 443.6) scale(1 1)" fill="#000" stroke="#000" stroke-width="0.15">0</text>
<text x="0" y="0" font-family='"Liberation Sans", sans-serif' font-size="22" text-anchor="end" transform="translate(688.9 381.55) scale(1 1)" fill="#000" stroke="#000" stroke-width="0.15">0.05</text>
<text x="658.32" y="312.3" font-family='"Liberation Sans", sans-serif' font-size="22" text-anchor="start" fill="#000" stroke="#000" stroke-width="0.15">0.</text>
<path d="M763 0H583V1147Q518 1085 412.5 1023T223 930V1104Q373 1174.5 485.5 1275T645 1470H763Z" transform="translate(676.67 312.3) scale(0.01074 -0.01074)" fill="#000" stroke="#000" stroke-width="13.96"/>
<text x="646.09" y="250.25" font-family='"Liberation Sans", sans-serif' font-size="22" text-anchor="start" fill="#000" stroke="#000" stroke-width="0.15">0.</text>
<path d="M763 0H583V1147Q518 1085 412.5 1023T223 930V1104Q373 1174.5 485.5 1275T645 1470H763Z" transform="translate(664.44 250.25) scale(0.01074 -0.01074)" fill="#000" stroke="#000" stroke-width="13.96"/>
<text x="676.67" y="250.25" font-family='"Liberation Sans", sans-serif' font-size="22" text-anchor="start" fill="#000" stroke="#000" stroke-width="0.15">5</text>
<text x="0" y="0" font-family='"Liberation Sans", sans-serif' font-size="22" text-anchor="end" transform="translate(688.9 181) scale(1 1)" fill="#000" stroke="#000" stroke-width="0.15">0.2</text>
<text x="0" y="0" font-family='"Liberation Sans", sans-serif' font-size="22" text-anchor="end" transform="translate(688.9 118.95) scale(1 1)" fill="#000" stroke="#000" stroke-width="0.15">0.25</text>
<text x="0" y="0" font-family='"Liberation Sans", sans-serif' font-size="22" text-anchor="end" transform="translate(688.9 49.7) scale(1 1)" fill="#000" stroke="#000" stroke-width="0.15">0.3</text>
<text x="0" y="0" font-family='"Liberation Sans", sans-serif' font-size="22" text-anchor="middle" transform="translate(89.2 463.8) scale(1 1)" fill="#000" stroke="#000" stroke-width="0.15">0</text>
<text x="121.61" y="463.8" font-family='"Liberation Sans", sans-serif' font-size="22" text-anchor="start" fill="#000" stroke="#000" stroke-width="0.15">0.</text>
<path d="M763 0H583V1147Q518 1085 412.5 1023T223 930V1104Q373 1174.5 485.5 1275T645 1470H763Z" transform="translate(139.96 463.8) scale(0.01074 -0.01074)" fill="#000" stroke="#000" stroke-width="13.96"/>
<text x="0" y="0" font-family='"Liberation Sans", sans-serif' font-size="22" text-anchor="middle" transform="translate(193.5 463.8) scale(1 1)" fill="#000" stroke="#000" stroke-width="0.15">0.2</text>
<text x="0" y="0" font-family='"Liberation Sans", sans-serif' font-size="22" text-anchor="middle" transform="translate(239.5 464.9) scale(1 1)" fill="#000" stroke="#000" stroke-width="0.15">0.3</text>
<text x="0" y="0" font-family='"Liberation Sans", sans-serif' font-size="22" text-anchor="middle" transform="translate(286.8 463.8) scale(1 1)" fill="#000" stroke="#000" stroke-width="0.15">0.4</text>
<text x="0" y="0" font-family='"Liberation Sans", sans-serif' font-size="22" text-anchor="middle" transform="translate(335.8 463.8) scale(1 1)" fill="#000" stroke="#000" stroke-width="0.15">0.5</text>
<text x="0" y="0" font-family='"Liberation Sans", sans-serif' font-size="22" text-anchor="middle" transform="translate(387.3 463.8) scale(1 1)" fill="#000" stroke="#000" stroke-width="0.15">0.6</text>
<text x="0" y="0" font-family='"Liberation Sans", sans-serif' font-size="22" text-anchor="middle" transform="translate(439.6 463.8) scale(1 1)" fill="#000" stroke="#000" stroke-width="0.15">0.7</text>
<text x="0" y="0" font-family='"Liberation Sans", sans-serif' font-size="22" text-anchor="middle" transform="translate(487 463.8) scale(1 1)" fill="#000" stroke="#000" stroke-width="0.15">0.8</text>
<text x="0" y="0" font-family='"Liberation Sans", sans-serif' font-size="22" text-anchor="middle" transform="translate(534.1 463.8) scale(1 1)" fill="#000" stroke="#000" stroke-width="0.15">0.9</text>
<path d="M763 0H583V1147Q518 1085 412.5 1023T223 930V1104Q373 1174.5 485.5 1275T645 1470H763Z" transform="translate(579.88 463.8) scale(0.01074 -0.01074)" fill="#000" stroke="#000" stroke-width="13.96"/>
<text x="0" y="0" font-family='"Liberation Sans", sans-serif' font-size="22" text-anchor="middle" transform="translate(693.5 463.8) scale(1 1)" fill="#000" stroke="#000" stroke-width="0.15">0</text>
<text x="725.91" y="463.8" font-family='"Liberation Sans", sans-serif' font-size="22" text-anchor="start" fill="#000" stroke="#000" stroke-width="0.15">0.</text>
<path d="M763 0H583V1147Q518 1085 412.5 1023T223 930V1104Q373 1174.5 485.5 1275T645 1470H763Z" transform="translate(744.26 463.8) scale(0.01074 -0.01074)" fill="#000" stroke="#000" stroke-width="13.96"/>
<text x="0" y="0" font-family='"Liberation Sans", sans-serif' font-size="22" text-anchor="middle" transform="translate(797.8 463.8) scale(1 1)" fill="#000" stroke="#000" stroke-width="0.15">0.2</text>
<text x="0" y="0" font-family='"Liberation Sans", sans-serif' font-size="22" text-anchor="middle" transform="translate(843.8 464.9) scale(1 1)" fill="#000" stroke="#000" stroke-width="0.15">0.3</text>
<text x="0" y="0" font-family='"Liberation Sans", sans-serif' font-size="22" text-anchor="middle" transform="translate(891.1 463.8) scale(1 1)" fill="#000" stroke="#000" stroke-width="0.15">0.4</text>
<text x="0" y="0" font-family='"Liberation Sans", sans-serif' font-size="22" text-anchor="middle" transform="translate(940.1 463.8) scale(1 1)" fill="#000" stroke="#000" stroke-width="0.15">0.5</text>
<text x="0" y="0" font-family='"Liberation Sans", sans-serif' font-size="22" text-anchor="middle" transform="translate(991.6 463.8) scale(1 1)" fill="#000" stroke="#000" stroke-width="0.15">0.6</text>
<text x="0" y="0" font-family='"Liberation Sans", sans-serif' font-size="22" text-anchor="middle" transform="translate(1043.9 463.8) scale(1 1)" fill="#000" stroke="#000" stroke-width="0.15">0.7</text>
<text x="0" y="0" font-family='"Liberation Sans", sans-serif' font-size="22" text-anchor="middle" transform="translate(1091.3 463.8) scale(1 1)" fill="#000" stroke="#000" stroke-width="0.15">0.8</text>
<text x="0" y="0" font-family='"Liberation Sans", sans-serif' font-size="22" text-anchor="middle" transform="translate(1138.4 463.8) scale(1 1)" fill="#000" stroke="#000" stroke-width="0.15">0.9</text>
<path d="M763 0H583V1147Q518 1085 412.5 1023T223 930V1104Q373 1174.5 485.5 1275T645 1470H763Z" transform="translate(1184.18 463.8) scale(0.01074 -0.01074)" fill="#000" stroke="#000" stroke-width="13.96"/>
<text x="0" y="0" font-family='"Liberation Sans", sans-serif' font-size="33" text-anchor="start" transform="translate(0.2 25) scale(1.04 1)" fill="#000" stroke="#000" stroke-width="0.15">(a)</text>
<text x="0" y="0" font-family='"Liberation Sans", sans-serif' font-size="33" text-anchor="start" transform="translate(605.8 25) scale(1.04 1)" fill="#000" stroke="#000" stroke-width="0.15">(b)</text>
<text x="270.5" y="36.7" font-family='"Liberation Serif", serif' font-size="31" text-anchor="middle" font-style="italic" fill="#000" stroke="#000" stroke-width="0.15">W</text>
<text x="0" y="0" font-family='"Liberation Serif", serif' font-size="31" text-anchor="middle" font-style="italic" transform="translate(311.6 36.7) scale(0.9 1)" fill="#000" stroke="#000" stroke-width="0.15">U</text>
<line x1="289.6" y1="42.5" x2="299.9" y2="15.6" stroke="#000" stroke-width="1.8"/>
<text x="0" y="0" font-family='"Liberation Serif", serif' font-size="31" text-anchor="middle" transform="translate(342.3 36.7) scale(1.3 1)" fill="#000" stroke="#000" stroke-width="0.15">=</text>
<text x="370.3" y="36.7" font-family='"Liberation Serif", serif' font-size="31" text-anchor="middle" fill="#000" stroke="#000" stroke-width="0.15">0</text>
<text x="887.3" y="36.7" font-family='"Liberation Serif", serif' font-size="31" text-anchor="middle" font-style="italic" fill="#000" stroke="#000" stroke-width="0.15">W</text>
<text x="0" y="0" font-family='"Liberation Serif", serif' font-size="31" text-anchor="middle" font-style="italic" transform="translate(931.6 36.7) scale(0.9 1)" fill="#000" stroke="#000" stroke-width="0.15">U</text>
<line x1="907.2" y1="42.5" x2="919.6" y2="15.6" stroke="#000" stroke-width="1.8"/>
<text x="0" y="0" font-family='"Liberation Serif", serif' font-size="31" text-anchor="middle" transform="translate(962.7 36.7) scale(1.3 1)" fill="#000" stroke="#000" stroke-width="0.15">=</text>
<text x="1010.6" y="36.7" font-family='"Liberation Serif", serif' font-size="31" text-anchor="middle" fill="#000" stroke="#000" stroke-width="0.15">0.12</text>
<text x="312.3" y="494.8" font-family='"Liberation Serif", serif' font-size="30" text-anchor="middle" font-style="italic" fill="#000" stroke="#000" stroke-width="0.15">T</text>
<line x1="325.2" y1="500.8" x2="335.9" y2="474" stroke="#000" stroke-width="1.9"/>
<text x="345.3" y="494.8" font-family='"Liberation Serif", serif' font-size="30" text-anchor="middle" font-style="italic" fill="#000" stroke="#000" stroke-width="0.15">T</text>
<text x="358.9" y="501" font-family='"Liberation Serif", serif' font-size="21" text-anchor="middle" fill="#000" stroke="#000" stroke-width="0.15">0</text>
<text x="926" y="494" font-family='"Liberation Serif", serif' font-size="30" text-anchor="middle" font-style="italic" fill="#000" stroke="#000" stroke-width="0.15">T</text>
<line x1="938.9" y1="500" x2="949.6" y2="473.2" stroke="#000" stroke-width="1.9"/>
<text x="959" y="494" font-family='"Liberation Serif", serif' font-size="30" text-anchor="middle" font-style="italic" fill="#000" stroke="#000" stroke-width="0.15">T</text>
<text x="972.6" y="500.2" font-family='"Liberation Serif", serif' font-size="21" text-anchor="middle" fill="#000" stroke="#000" stroke-width="0.15">0</text>
<text x="0" y="0" font-family='"Liberation Serif", serif' font-size="38" text-anchor="middle" font-style="italic" transform="translate(18.3 241.9) rotate(-90)" fill="#000" stroke="#000" stroke-width="0.15">η</text>
<text x="0" y="0" font-family='"Liberation Serif", serif' font-size="38" text-anchor="middle" font-style="italic" transform="translate(626 241.9) rotate(-90)" fill="#000" stroke="#000" stroke-width="0.15">η</text>
<text x="0" y="0" font-family='"Liberation Serif", serif' font-size="30.5" text-anchor="middle" transform="translate(276.5 97) scale(0.9 1)" fill="#000" stroke="#000" stroke-width="0.15">FFLO</text>
<text x="0" y="0" font-family='"Liberation Serif", serif' font-size="30.5" text-anchor="middle" transform="translate(292.9 261.5) scale(0.88 1)" fill="#000" stroke="#000" stroke-width="0.15">BCS</text>
<text x="0" y="0" font-family='"Liberation Serif", serif' font-size="30.5" text-anchor="middle" transform="translate(876.2 94.2) scale(0.9 1)" fill="#000" stroke="#000" stroke-width="0.15">FFLO</text>
<text x="0" y="0" font-family='"Liberation Serif", serif' font-size="30.5" text-anchor="middle" transform="translate(891.6 261.5) scale(0.88 1)" fill="#000" stroke="#000" stroke-width="0.15">BCS</text>
<rect x="60" y="556.7" width="317.5" height="250.5" fill="none" stroke="#262626" stroke-width="1.1"/>
<path d="M139.38 807.2v-3.8M139.38 556.7v3.8M218.75 807.2v-3.8M218.75 556.7v3.8M298.12 807.2v-3.8M298.12 556.7v3.8M60 757.1h3.8M377.5 757.1h-3.8M60 707h3.8M377.5 707h-3.8M60 656.9h3.8M377.5 656.9h-3.8M60 606.8h3.8M377.5 606.8h-3.8" stroke="#262626" stroke-width="1" fill="none"/>
<path d="M60 564.7 L63.18 565.77 L66.35 566.89 L69.53 568.05 L72.7 569.3 L75.88 570.68 L79.05 572.02 L82.22 573.15 L85.4 574.06 L88.58 574.68 L91.75 575.09 L94.92 575.17 L98.1 574.81 L101.28 574.28 L104.45 573.46 L107.62 572.28 L110.8 570.63 L113.97 568.91 L117.15 567.55 L120.33 566.36 L123.5 565.31 L126.68 564.48 L129.85 563.83 L133.02 563.3 L136.2 562.97 L139.38 562.77 L142.55 562.7 L145.73 562.7 L148.9 562.7 L152.08 562.71 L155.25 562.74 L158.43 562.8 L161.6 563.52 L164.77 565.25 L167.95 569.02 L171.12 575.05 L174.3 581.97 L177.47 593.96 L180.65 611.88 L183.82 634.27 L187 655.6 L190.18 676.23 L193.35 697.38 L196.53 714.53 L199.7 731.23 L202.88 744.32 L206.05 755.15 L209.22 763.73 L212.4 771.46 L215.57 775.09 L218.75 776.5 L221.93 775.09 L225.1 771.46 L228.28 763.73 L231.45 755.15 L234.62 744.32 L237.8 731.23 L240.98 714.53 L244.15 697.38 L247.32 676.23 L250.5 655.6 L253.67 634.27 L256.85 611.88 L260.02 593.96 L263.2 581.97 L266.38 575.05 L269.55 569.02 L272.73 565.25 L275.9 563.52 L279.07 562.8 L282.25 562.74 L285.42 562.71 L288.6 562.7 L291.77 562.7 L294.95 562.7 L298.12 562.77 L301.3 562.97 L304.48 563.3 L307.65 563.83 L310.83 564.48 L314 565.31 L317.18 566.36 L320.35 567.55 L323.53 568.91 L326.7 570.63 L329.88 572.28 L333.05 573.46 L336.23 574.28 L339.4 574.81 L342.57 575.17 L345.75 575.09 L348.92 574.68 L352.1 574.06 L355.27 573.15 L358.45 572.02 L361.62 570.68 L364.8 569.3 L367.97 568.05 L371.15 566.89 L374.32 565.77 L377.5 564.7" fill="none" stroke="#0000ff" stroke-width="1.2" stroke-linejoin="round" opacity="1"/>
<path d="M85.4 574.06 L88.58 574.68 L91.75 575.09 L94.92 575.17 L98.1 574.81 L101.28 574.28 L104.45 573.46" fill="none" stroke="#00e0e8" stroke-width="1.5"/>
<path d="M206.05 755.15 L209.22 763.73 L212.4 771.46 L215.57 775.09 L218.75 776.5 L221.93 775.09 L225.1 771.46 L228.28 763.73 L231.45 755.15" fill="none" stroke="#00e0e8" stroke-width="1.5"/>
<path d="M333.05 573.46 L336.23 574.28 L339.4 574.81 L342.57 575.17 L345.75 575.09 L348.92 574.68 L352.1 574.06" fill="none" stroke="#00e0e8" stroke-width="1.5"/>
<g fill="none" stroke="#0000ff" stroke-width="0.75" opacity="0.75"><circle cx="60" cy="564.7" r="2.4"/><circle cx="63.18" cy="565.77" r="2.4"/><circle cx="66.35" cy="566.89" r="2.4"/><circle cx="69.53" cy="568.05" r="2.4"/><circle cx="72.7" cy="569.3" r="2.4"/><circle cx="75.88" cy="570.68" r="2.4"/><circle cx="79.05" cy="572.02" r="2.4"/><circle cx="82.22" cy="573.15" r="2.4"/><circle cx="107.62" cy="572.28" r="2.4"/><circle cx="110.8" cy="570.63" r="2.4"/><circle cx="113.97" cy="568.91" r="2.4"/><circle cx="117.15" cy="567.55" r="2.4"/><circle cx="120.33" cy="566.36" r="2.4"/><circle cx="123.5" cy="565.31" r="2.4"/><circle cx="126.68" cy="564.48" r="2.4"/><circle cx="129.85" cy="563.83" r="2.4"/><circle cx="133.02" cy="563.3" r="2.4"/><circle cx="136.2" cy="562.97" r="2.4"/><circle cx="139.38" cy="562.77" r="2.4"/><circle cx="142.55" cy="562.7" r="2.4"/><circle cx="145.73" cy="562.7" r="2.4"/><circle cx="148.9" cy="562.7" r="2.4"/><circle cx="152.08" cy="562.71" r="2.4"/><circle cx="155.25" cy="562.74" r="2.4"/><circle cx="158.43" cy="562.8" r="2.4"/><circle cx="161.6" cy="563.52" r="2.4"/><circle cx="164.77" cy="565.25" r="2.4"/><circle cx="167.95" cy="569.02" r="2.4"/><circle cx="171.12" cy="575.05" r="2.4"/><circle cx="174.3" cy="581.97" r="2.4"/><circle cx="177.47" cy="593.96" r="2.4"/><circle cx="180.65" cy="611.88" r="2.4"/><circle cx="183.82" cy="634.27" r="2.4"/><circle cx="187" cy="655.6" r="2.4"/><circle cx="190.18" cy="676.23" r="2.4"/><circle cx="193.35" cy="697.38" r="2.4"/><circle cx="196.53" cy="714.53" r="2.4"/><circle cx="199.7" cy="731.23" r="2.4"/><circle cx="202.88" cy="744.32" r="2.4"/><circle cx="234.62" cy="744.32" r="2.4"/><circle cx="237.8" cy="731.23" r="2.4"/><circle cx="240.98" cy="714.53" r="2.4"/><circle cx="244.15" cy="697.38" r="2.4"/><circle cx="247.32" cy="676.23" r="2.4"/><circle cx="250.5" cy="655.6" r="2.4"/><circle cx="253.67" cy="634.27" r="2.4"/><circle cx="256.85" cy="611.88" r="2.4"/><circle cx="260.02" cy="593.96" r="2.4"/><circle cx="263.2" cy="581.97" r="2.4"/><circle cx="266.38" cy="575.05" r="2.4"/><circle cx="269.55" cy="569.02" r="2.4"/><circle cx="272.73" cy="565.25" r="2.4"/><circle cx="275.9" cy="563.52" r="2.4"/><circle cx="279.07" cy="562.8" r="2.4"/><circle cx="282.25" cy="562.74" r="2.4"/><circle cx="285.42" cy="562.71" r="2.4"/><circle cx="288.6" cy="562.7" r="2.4"/><circle cx="291.77" cy="562.7" r="2.4"/><circle cx="294.95" cy="562.7" r="2.4"/><circle cx="298.12" cy="562.77" r="2.4"/><circle cx="301.3" cy="562.97" r="2.4"/><circle cx="304.48" cy="563.3" r="2.4"/><circle cx="307.65" cy="563.83" r="2.4"/><circle cx="310.83" cy="564.48" r="2.4"/><circle cx="314" cy="565.31" r="2.4"/><circle cx="317.18" cy="566.36" r="2.4"/><circle cx="320.35" cy="567.55" r="2.4"/><circle cx="323.53" cy="568.91" r="2.4"/><circle cx="326.7" cy="570.63" r="2.4"/><circle cx="329.88" cy="572.28" r="2.4"/><circle cx="355.27" cy="573.15" r="2.4"/><circle cx="358.45" cy="572.02" r="2.4"/><circle cx="361.62" cy="570.68" r="2.4"/><circle cx="364.8" cy="569.3" r="2.4"/><circle cx="367.97" cy="568.05" r="2.4"/><circle cx="371.15" cy="566.89" r="2.4"/><circle cx="374.32" cy="565.77" r="2.4"/><circle cx="377.5" cy="564.7" r="2.4"/></g>
<g fill="none" stroke="#3fb4ff" stroke-width="0.75" opacity="0.9"><circle cx="85.4" cy="574.06" r="2.3"/><circle cx="88.58" cy="574.68" r="2.3"/><circle cx="91.75" cy="575.09" r="2.3"/><circle cx="94.92" cy="575.17" r="2.3"/><circle cx="98.1" cy="574.81" r="2.3"/><circle cx="101.28" cy="574.28" r="2.3"/><circle cx="104.45" cy="573.46" r="2.3"/><circle cx="206.05" cy="755.15" r="2.3"/><circle cx="209.22" cy="763.73" r="2.3"/><circle cx="212.4" cy="771.46" r="2.3"/><circle cx="215.57" cy="775.09" r="2.3"/><circle cx="218.75" cy="776.5" r="2.3"/><circle cx="221.93" cy="775.09" r="2.3"/><circle cx="225.1" cy="771.46" r="2.3"/><circle cx="228.28" cy="763.73" r="2.3"/><circle cx="231.45" cy="755.15" r="2.3"/><circle cx="333.05" cy="573.46" r="2.3"/><circle cx="336.23" cy="574.28" r="2.3"/><circle cx="339.4" cy="574.81" r="2.3"/><circle cx="342.57" cy="575.17" r="2.3"/><circle cx="345.75" cy="575.09" r="2.3"/><circle cx="348.92" cy="574.68" r="2.3"/><circle cx="352.1" cy="574.06" r="2.3"/></g>
<rect x="467.7" y="559.2" width="314" height="248" fill="none" stroke="#262626" stroke-width="1.1"/>
<path d="M546.2 807.2v-3.8M546.2 559.2v3.8M624.7 807.2v-3.8M624.7 559.2v3.8M703.2 807.2v-3.8M703.2 559.2v3.8M467.7 724.53h3.8M781.7 724.53h-3.8M467.7 641.87h3.8M781.7 641.87h-3.8" stroke="#262626" stroke-width="1" fill="none"/>
<path d="M467.7 575.3 L470.84 575.3 L473.98 575.3 L477.12 575.3 L480.26 575.4 L483.4 575.8 L486.54 577 L489.68 580 L492.82 584.7 L495.96 592 L499.1 603 L502.24 617.7 L505.38 636.3 L508.52 658.7 L511.66 683.7 L514.8 710.5 L517.94 735.2 L521.08 757.2 L524.22 774.3 L527.36 785.2 L530.5 789.3 L533.64 786.3 L536.78 776.5 L539.92 761 L543.06 741.4 L546.2 718.3 L549.34 693 L552.48 668 L555.62 643.5 L558.76 622.6 L561.9 605.3 L565.04 592 L568.18 583 L571.32 578 L574.46 575.9 L577.6 575.4 L580.74 575.3 L583.88 575.3 L587.02 575.3 L590.16 575.5 L593.3 577 L596.44 580.8 L599.58 586.7 L602.72 595.5 L605.86 606.7 L609 620 L612.14 633.8 L615.28 646.7 L618.42 658 L621.56 665 L624.7 668 L627.84 665 L630.98 658 L634.12 646.7 L637.26 633.8 L640.4 620 L643.54 606.7 L646.68 595.5 L649.82 586.7 L652.96 580.8 L656.1 577 L659.24 575.5 L662.38 575.3 L665.52 575.3 L668.66 575.3 L671.8 575.4 L674.94 575.9 L678.08 578 L681.22 583 L684.36 592 L687.5 605.3 L690.64 622.6 L693.78 643.5 L696.92 668 L700.06 693 L703.2 718.3 L706.34 741.4 L709.48 761 L712.62 776.5 L715.76 786.3 L718.9 789.3 L722.04 785.2 L725.18 774.3 L728.32 757.2 L731.46 735.2 L734.6 710.5 L737.74 683.7 L740.88 658.7 L744.02 636.3 L747.16 617.7 L750.3 603 L753.44 592 L756.58 584.7 L759.72 580 L762.86 577 L766 575.8 L769.14 575.4 L772.28 575.3 L775.42 575.3 L778.56 575.3 L781.7 575.3" fill="none" stroke="#1e8008" stroke-width="1" stroke-linejoin="round" opacity="1"/>
<path d="M521.08 757.2 L524.22 774.3 L527.36 785.2 L530.5 789.3 L533.64 786.3 L536.78 776.5 L539.92 761" fill="none" stroke="#00e0e8" stroke-width="1.3"/>
<path d="M615.28 646.7 L618.42 658 L621.56 665 L624.7 668 L627.84 665 L630.98 658 L634.12 646.7" fill="none" stroke="#00e0e8" stroke-width="1.3"/>
<path d="M709.48 761 L712.62 776.5 L715.76 786.3 L718.9 789.3 L722.04 785.2 L725.18 774.3 L728.32 757.2" fill="none" stroke="#00e0e8" stroke-width="1.3"/>
<g fill="none" stroke="#1e8008" stroke-width="1.25" opacity="0.95"><circle cx="467.7" cy="575.3" r="1.95"/><circle cx="470.84" cy="575.3" r="1.95"/><circle cx="473.98" cy="575.3" r="1.95"/><circle cx="477.12" cy="575.3" r="1.95"/><circle cx="480.26" cy="575.4" r="1.95"/><circle cx="483.4" cy="575.8" r="1.95"/><circle cx="486.54" cy="577" r="1.95"/><circle cx="489.68" cy="580" r="1.95"/><circle cx="492.82" cy="584.7" r="1.95"/><circle cx="495.96" cy="592" r="1.95"/><circle cx="499.1" cy="603" r="1.95"/><circle cx="502.24" cy="617.7" r="1.95"/><circle cx="505.38" cy="636.3" r="1.95"/><circle cx="508.52" cy="658.7" r="1.95"/><circle cx="511.66" cy="683.7" r="1.95"/><circle cx="514.8" cy="710.5" r="1.95"/><circle cx="517.94" cy="735.2" r="1.95"/><circle cx="543.06" cy="741.4" r="1.95"/><circle cx="546.2" cy="718.3" r="1.95"/><circle cx="549.34" cy="693" r="1.95"/><circle cx="552.48" cy="668" r="1.95"/><circle cx="555.62" cy="643.5" r="1.95"/><circle cx="558.76" cy="622.6" r="1.95"/><circle cx="561.9" cy="605.3" r="1.95"/><circle cx="565.04" cy="592" r="1.95"/><circle cx="568.18" cy="583" r="1.95"/><circle cx="571.32" cy="578" r="1.95"/><circle cx="574.46" cy="575.9" r="1.95"/><circle cx="577.6" cy="575.4" r="1.95"/><circle cx="580.74" cy="575.3" r="1.95"/><circle cx="583.88" cy="575.3" r="1.95"/><circle cx="587.02" cy="575.3" r="1.95"/><circle cx="590.16" cy="575.5" r="1.95"/><circle cx="593.3" cy="577" r="1.95"/><circle cx="596.44" cy="580.8" r="1.95"/><circle cx="599.58" cy="586.7" r="1.95"/><circle cx="602.72" cy="595.5" r="1.95"/><circle cx="605.86" cy="606.7" r="1.95"/><circle cx="609" cy="620" r="1.95"/><circle cx="612.14" cy="633.8" r="1.95"/><circle cx="637.26" cy="633.8" r="1.95"/><circle cx="640.4" cy="620" r="1.95"/><circle cx="643.54" cy="606.7" r="1.95"/><circle cx="646.68" cy="595.5" r="1.95"/><circle cx="649.82" cy="586.7" r="1.95"/><circle cx="652.96" cy="580.8" r="1.95"/><circle cx="656.1" cy="577" r="1.95"/><circle cx="659.24" cy="575.5" r="1.95"/><circle cx="662.38" cy="575.3" r="1.95"/><circle cx="665.52" cy="575.3" r="1.95"/><circle cx="668.66" cy="575.3" r="1.95"/><circle cx="671.8" cy="575.4" r="1.95"/><circle cx="674.94" cy="575.9" r="1.95"/><circle cx="678.08" cy="578" r="1.95"/><circle cx="681.22" cy="583" r="1.95"/><circle cx="684.36" cy="592" r="1.95"/><circle cx="687.5" cy="605.3" r="1.95"/><circle cx="690.64" cy="622.6" r="1.95"/><circle cx="693.78" cy="643.5" r="1.95"/><circle cx="696.92" cy="668" r="1.95"/><circle cx="700.06" cy="693" r="1.95"/><circle cx="703.2" cy="718.3" r="1.95"/><circle cx="706.34" cy="741.4" r="1.95"/><circle cx="731.46" cy="735.2" r="1.95"/><circle cx="734.6" cy="710.5" r="1.95"/><circle cx="737.74" cy="683.7" r="1.95"/><circle cx="740.88" cy="658.7" r="1.95"/><circle cx="744.02" cy="636.3" r="1.95"/><circle cx="747.16" cy="617.7" r="1.95"/><circle cx="750.3" cy="603" r="1.95"/><circle cx="753.44" cy="592" r="1.95"/><circle cx="756.58" cy="584.7" r="1.95"/><circle cx="759.72" cy="580" r="1.95"/><circle cx="762.86" cy="577" r="1.95"/><circle cx="766" cy="575.8" r="1.95"/><circle cx="769.14" cy="575.4" r="1.95"/><circle cx="772.28" cy="575.3" r="1.95"/><circle cx="775.42" cy="575.3" r="1.95"/><circle cx="778.56" cy="575.3" r="1.95"/><circle cx="781.7" cy="575.3" r="1.95"/></g>
<g fill="none" stroke="#3fb4ff" stroke-width="0.8" opacity="0.9"><circle cx="521.08" cy="757.2" r="2.3"/><circle cx="524.22" cy="774.3" r="2.3"/><circle cx="527.36" cy="785.2" r="2.3"/><circle cx="530.5" cy="789.3" r="2.3"/><circle cx="533.64" cy="786.3" r="2.3"/><circle cx="536.78" cy="776.5" r="2.3"/><circle cx="539.92" cy="761" r="2.3"/><circle cx="615.28" cy="646.7" r="2.3"/><circle cx="618.42" cy="658" r="2.3"/><circle cx="621.56" cy="665" r="2.3"/><circle cx="624.7" cy="668" r="2.3"/><circle cx="627.84" cy="665" r="2.3"/><circle cx="630.98" cy="658" r="2.3"/><circle cx="634.12" cy="646.7" r="2.3"/><circle cx="709.48" cy="761" r="2.3"/><circle cx="712.62" cy="776.5" r="2.3"/><circle cx="715.76" cy="786.3" r="2.3"/><circle cx="718.9" cy="789.3" r="2.3"/><circle cx="722.04" cy="785.2" r="2.3"/><circle cx="725.18" cy="774.3" r="2.3"/><circle cx="728.32" cy="757.2" r="2.3"/></g>
<rect x="876.7" y="558.3" width="313" height="248" fill="none" stroke="#262626" stroke-width="1.1"/>
<path d="M954.95 806.3v-3.8M954.95 558.3v3.8M1033.2 806.3v-3.8M1033.2 558.3v3.8M1111.45 806.3v-3.8M1111.45 558.3v3.8M876.7 723.63h3.8M1189.7 723.63h-3.8M876.7 640.97h3.8M1189.7 640.97h-3.8" stroke="#262626" stroke-width="1" fill="none"/>
<path d="M876.7 590 L879.83 584.5 L882.96 580.5 L886.09 577.5 L889.22 575.5 L892.35 574.5 L895.48 574.1 L898.61 574 L901.74 574 L904.87 574 L908 574.1 L911.13 574.5 L914.26 575.8 L917.39 578.3 L920.52 583.3 L923.65 591.3 L926.78 603.3 L929.91 619.3 L933.04 639 L936.17 663 L939.3 689 L942.43 715.8 L945.56 740.4 L948.69 761.2 L951.82 776.5 L954.95 785.5 L958.08 788.2 L961.21 783.8 L964.34 773.8 L967.47 759 L970.6 740.4 L973.73 719.3 L976.86 697 L979.99 674.7 L983.12 653.8 L986.25 634.5 L989.38 618.5 L992.51 604.7 L995.64 594.3 L998.77 586.7 L1001.9 581.7 L1005.03 578.3 L1008.16 575.8 L1011.29 574.6 L1014.42 574.1 L1017.55 574 L1020.68 574 L1023.81 574 L1026.94 574 L1030.07 574 L1033.2 574 L1036.33 574 L1039.46 574 L1042.59 574 L1045.72 574 L1048.85 574 L1051.98 574.1 L1055.11 574.6 L1058.24 575.8 L1061.37 578.3 L1064.5 581.7 L1067.63 586.7 L1070.76 594.3 L1073.89 604.7 L1077.02 618.5 L1080.15 634.5 L1083.28 653.8 L1086.41 674.7 L1089.54 697 L1092.67 719.3 L1095.8 740.4 L1098.93 759 L1102.06 773.8 L1105.19 783.8 L1108.32 788.2 L1111.45 785.5 L1114.58 776.5 L1117.71 761.2 L1120.84 740.4 L1123.97 715.8 L1127.1 689 L1130.23 663 L1133.36 639 L1136.49 619.3 L1139.62 603.3 L1142.75 591.3 L1145.88 583.3 L1149.01 578.3 L1152.14 575.8 L1155.27 574.5 L1158.4 574.1 L1161.53 574 L1164.66 574 L1167.79 574 L1170.92 574.1 L1174.05 574.5 L1177.18 575.5 L1180.31 577.5 L1183.44 580.5 L1186.57 584.5 L1189.7 590" fill="none" stroke="#ff00e6" stroke-width="1" stroke-linejoin="round" opacity="1"/>
<path d="M948.69 761.2 L951.82 776.5 L954.95 785.5 L958.08 788.2 L961.21 783.8 L964.34 773.8 L967.47 759" fill="none" stroke="#00e0e8" stroke-width="1.3"/>
<path d="M1098.93 759 L1102.06 773.8 L1105.19 783.8 L1108.32 788.2 L1111.45 785.5 L1114.58 776.5 L1117.71 761.2" fill="none" stroke="#00e0e8" stroke-width="1.3"/>
<g fill="none" stroke="#ff00e6" stroke-width="1.2" opacity="0.95"><circle cx="876.7" cy="590" r="1.95" opacity="0.35"/><circle cx="879.83" cy="584.5" r="1.95"/><circle cx="882.96" cy="580.5" r="1.95"/><circle cx="886.09" cy="577.5" r="1.95"/><circle cx="889.22" cy="575.5" r="1.95"/><circle cx="892.35" cy="574.5" r="1.95"/><circle cx="895.48" cy="574.1" r="1.95"/><circle cx="898.61" cy="574" r="1.95"/><circle cx="901.74" cy="574" r="1.95"/><circle cx="904.87" cy="574" r="1.95"/><circle cx="908" cy="574.1" r="1.95"/><circle cx="911.13" cy="574.5" r="1.95"/><circle cx="914.26" cy="575.8" r="1.95"/><circle cx="917.39" cy="578.3" r="1.95"/><circle cx="920.52" cy="583.3" r="1.95"/><circle cx="923.65" cy="591.3" r="1.95"/><circle cx="926.78" cy="603.3" r="1.95"/><circle cx="929.91" cy="619.3" r="1.95"/><circle cx="933.04" cy="639" r="1.95"/><circle cx="936.17" cy="663" r="1.95"/><circle cx="939.3" cy="689" r="1.95"/><circle cx="942.43" cy="715.8" r="1.95"/><circle cx="945.56" cy="740.4" r="1.95"/><circle cx="970.6" cy="740.4" r="1.95"/><circle cx="973.73" cy="719.3" r="1.95"/><circle cx="976.86" cy="697" r="1.95"/><circle cx="979.99" cy="674.7" r="1.95"/><circle cx="983.12" cy="653.8" r="1.95"/><circle cx="986.25" cy="634.5" r="1.95"/><circle cx="989.38" cy="618.5" r="1.95"/><circle cx="992.51" cy="604.7" r="1.95"/><circle cx="995.64" cy="594.3" r="1.95"/><circle cx="998.77" cy="586.7" r="1.95"/><circle cx="1001.9" cy="581.7" r="1.95"/><circle cx="1005.03" cy="578.3" r="1.95"/><circle cx="1008.16" cy="575.8" r="1.95"/><circle cx="1011.29" cy="574.6" r="1.95"/><circle cx="1014.42" cy="574.1" r="1.95"/><circle cx="1017.55" cy="574" r="1.95"/><circle cx="1020.68" cy="574" r="1.95"/><circle cx="1023.81" cy="574" r="1.95"/><circle cx="1026.94" cy="574" r="1.95"/><circle cx="1030.07" cy="574" r="1.95"/><circle cx="1033.2" cy="574" r="1.95"/><circle cx="1036.33" cy="574" r="1.95"/><circle cx="1039.46" cy="574" r="1.95"/><circle cx="1042.59" cy="574" r="1.95"/><circle cx="1045.72" cy="574" r="1.95"/><circle cx="1048.85" cy="574" r="1.95"/><circle cx="1051.98" cy="574.1" r="1.95"/><circle cx="1055.11" cy="574.6" r="1.95"/><circle cx="1058.24" cy="575.8" r="1.95"/><circle cx="1061.37" cy="578.3" r="1.95"/><circle cx="1064.5" cy="581.7" r="1.95"/><circle cx="1067.63" cy="586.7" r="1.95"/><circle cx="1070.76" cy="594.3" r="1.95"/><circle cx="1073.89" cy="604.7" r="1.95"/><circle cx="1077.02" cy="618.5" r="1.95"/><circle cx="1080.15" cy="634.5" r="1.95"/><circle cx="1083.28" cy="653.8" r="1.95"/><circle cx="1086.41" cy="674.7" r="1.95"/><circle cx="1089.54" cy="697" r="1.95"/><circle cx="1092.67" cy="719.3" r="1.95"/><circle cx="1095.8" cy="740.4" r="1.95"/><circle cx="1120.84" cy="740.4" r="1.95"/><circle cx="1123.97" cy="715.8" r="1.95"/><circle cx="1127.1" cy="689" r="1.95"/><circle cx="1130.23" cy="663" r="1.95"/><circle cx="1133.36" cy="639" r="1.95"/><circle cx="1136.49" cy="619.3" r="1.95"/><circle cx="1139.62" cy="603.3" r="1.95"/><circle cx="1142.75" cy="591.3" r="1.95"/><circle cx="1145.88" cy="583.3" r="1.95"/><circle cx="1149.01" cy="578.3" r="1.95"/><circle cx="1152.14" cy="575.8" r="1.95"/><circle cx="1155.27" cy="574.5" r="1.95"/><circle cx="1158.4" cy="574.1" r="1.95"/><circle cx="1161.53" cy="574" r="1.95"/><circle cx="1164.66" cy="574" r="1.95"/><circle cx="1167.79" cy="574" r="1.95"/><circle cx="1170.92" cy="574.1" r="1.95"/><circle cx="1174.05" cy="574.5" r="1.95"/><circle cx="1177.18" cy="575.5" r="1.95"/><circle cx="1180.31" cy="577.5" r="1.95"/><circle cx="1183.44" cy="580.5" r="1.95"/><circle cx="1186.57" cy="584.5" r="1.95"/><circle cx="1189.7" cy="590" r="1.95" opacity="0.35"/></g>
<g fill="none" stroke="#3fb4ff" stroke-width="0.8" opacity="0.9"><circle cx="948.69" cy="761.2" r="2.3"/><circle cx="951.82" cy="776.5" r="2.3"/><circle cx="954.95" cy="785.5" r="2.3"/><circle cx="958.08" cy="788.2" r="2.3"/><circle cx="961.21" cy="783.8" r="2.3"/><circle cx="964.34" cy="773.8" r="2.3"/><circle cx="967.47" cy="759" r="2.3"/><circle cx="1098.93" cy="759" r="2.3"/><circle cx="1102.06" cy="773.8" r="2.3"/><circle cx="1105.19" cy="783.8" r="2.3"/><circle cx="1108.32" cy="788.2" r="2.3"/><circle cx="1111.45" cy="785.5" r="2.3"/><circle cx="1114.58" cy="776.5" r="2.3"/><circle cx="1117.71" cy="761.2" r="2.3"/></g>
<circle cx="218.8" cy="526.7" r="8.3" fill="#0000ff"/>
<circle cx="624.4" cy="526.7" r="8.3" fill="#1e8008"/>
<circle cx="1031.8" cy="525.8" r="8.3" fill="#ff00e6"/>
<text x="0" y="0" font-family='"Liberation Sans", sans-serif' font-size="33.8" text-anchor="start" transform="translate(17.3 536.3) scale(1.03 1)" fill="#000" stroke="#000" stroke-width="0.15">(c)</text>
<text x="0" y="0" font-family='"Liberation Sans", sans-serif' font-size="33.8" text-anchor="start" transform="translate(420.3 539.8) scale(1.03 1)" fill="#000" stroke="#000" stroke-width="0.15">(d)</text>
<text x="0" y="0" font-family='"Liberation Sans", sans-serif' font-size="33.8" text-anchor="start" transform="translate(826.8 539.6) scale(1.03 1)" fill="#000" stroke="#000" stroke-width="0.15">(e)</text>
<text x="0" y="0" font-family='"Liberation Sans", sans-serif' font-size="16.5" text-anchor="middle" transform="translate(59.2 830) scale(1 1)" fill="#000" stroke="#000" stroke-width="0.15">-0.5</text>
<text x="0" y="0" font-family='"Liberation Sans", sans-serif' font-size="16.5" text-anchor="middle" transform="translate(142.5 830) scale(1 1)" fill="#000" stroke="#000" stroke-width="0.15">-0.25</text>
<text x="0" y="0" font-family='"Liberation Sans", sans-serif' font-size="16.5" text-anchor="middle" transform="translate(218.75 830) scale(1 1)" fill="#000" stroke="#000" stroke-width="0.15">0</text>
<text x="0" y="0" font-family='"Liberation Sans", sans-serif' font-size="16.5" text-anchor="middle" transform="translate(304.75 830) scale(1 1)" fill="#000" stroke="#000" stroke-width="0.15">0.25</text>
<text x="0" y="0" font-family='"Liberation Sans", sans-serif' font-size="16.5" text-anchor="middle" transform="translate(374.8 830) scale(1 1)" fill="#000" stroke="#000" stroke-width="0.15">0.5</text>
<text x="0" y="0" font-family='"Liberation Sans", sans-serif' font-size="16.5" text-anchor="middle" transform="translate(468.9 829.3) scale(1 1)" fill="#000" stroke="#000" stroke-width="0.15">-0.5</text>
<text x="0" y="0" font-family='"Liberation Sans", sans-serif' font-size="16.5" text-anchor="middle" transform="translate(547.9 829.3) scale(1 1)" fill="#000" stroke="#000" stroke-width="0.15">-0.25</text>
<text x="0" y="0" font-family='"Liberation Sans", sans-serif' font-size="16.5" text-anchor="middle" transform="translate(624.75 829.3) scale(1 1)" fill="#000" stroke="#000" stroke-width="0.15">0</text>
<text x="0" y="0" font-family='"Liberation Sans", sans-serif' font-size="16.5" text-anchor="middle" transform="translate(709.6 829.3) scale(1 1)" fill="#000" stroke="#000" stroke-width="0.15">0.25</text>
<text x="0" y="0" font-family='"Liberation Sans", sans-serif' font-size="16.5" text-anchor="middle" transform="translate(780 829.3) scale(1 1)" fill="#000" stroke="#000" stroke-width="0.15">0.5</text>
<text x="0" y="0" font-family='"Liberation Sans", sans-serif' font-size="16.5" text-anchor="middle" transform="translate(880.8 828.5) scale(1 1)" fill="#000" stroke="#000" stroke-width="0.15">-0.5</text>
<text x="0" y="0" font-family='"Liberation Sans", sans-serif' font-size="16.5" text-anchor="middle" transform="translate(956.25 828.5) scale(1 1)" fill="#000" stroke="#000" stroke-width="0.15">-0.25</text>
<text x="0" y="0" font-family='"Liberation Sans", sans-serif' font-size="16.5" text-anchor="middle" transform="translate(1033.3 828.5) scale(1 1)" fill="#000" stroke="#000" stroke-width="0.15">0</text>
<text x="0" y="0" font-family='"Liberation Sans", sans-serif' font-size="16.5" text-anchor="middle" transform="translate(1118.75 828.5) scale(1 1)" fill="#000" stroke="#000" stroke-width="0.15">0.25</text>
<text x="0" y="0" font-family='"Liberation Sans", sans-serif' font-size="16.5" text-anchor="middle" transform="translate(1189.5 828.5) scale(1 1)" fill="#000" stroke="#000" stroke-width="0.15">0.5</text>
<text x="203.8" y="847.5" font-family='"Liberation Serif", serif' font-size="23" text-anchor="middle" font-style="italic" fill="#000" stroke="#000" stroke-width="0.15">q</text>
<line x1="212.3" y1="853.5" x2="220.3" y2="833.5" stroke="#000" stroke-width="1.45"/>
<text x="227.5" y="847.5" font-family='"Liberation Serif", serif' font-size="23" text-anchor="middle" font-style="italic" fill="#000" stroke="#000" stroke-width="0.15">π</text>
<text x="610.8" y="847.7" font-family='"Liberation Serif", serif' font-size="23" text-anchor="middle" font-style="italic" fill="#000" stroke="#000" stroke-width="0.15">q</text>
<line x1="619.3" y1="853.7" x2="627.3" y2="833.7" stroke="#000" stroke-width="1.45"/>
<text x="634.5" y="847.7" font-family='"Liberation Serif", serif' font-size="23" text-anchor="middle" font-style="italic" fill="#000" stroke="#000" stroke-width="0.15">π</text>
<text x="1018.3" y="846.8" font-family='"Liberation Serif", serif' font-size="23" text-anchor="middle" font-style="italic" fill="#000" stroke="#000" stroke-width="0.15">q</text>
<line x1="1026.8" y1="852.8" x2="1034.8" y2="832.8" stroke="#000" stroke-width="1.45"/>
<text x="1042" y="846.8" font-family='"Liberation Serif", serif' font-size="23" text-anchor="middle" font-style="italic" fill="#000" stroke="#000" stroke-width="0.15">π</text>
<g transform="translate(43.2 761) rotate(-90)">
<text x="0" y="0" font-family='"Liberation Serif", serif' font-size="21.5" textLength="41" lengthAdjust="spacingAndGlyphs" stroke="#000" stroke-width="0.15"><tspan font-style="italic">F</tspan>(<tspan font-style="italic">q</tspan>)</text>
<text x="45" y="0" font-family='"Liberation Sans", sans-serif' font-size="18" textLength="89.5" lengthAdjust="spacingAndGlyphs">(arb. units)</text>
</g>
<g transform="translate(450.8 759.2) rotate(-90)">
<text x="0" y="0" font-family='"Liberation Serif", serif' font-size="21.5" textLength="41" lengthAdjust="spacingAndGlyphs" stroke="#000" stroke-width="0.15"><tspan font-style="italic">F</tspan>(<tspan font-style="italic">q</tspan>)</text>
<text x="45" y="0" font-family='"Liberation Sans", sans-serif' font-size="18" textLength="89.5" lengthAdjust="spacingAndGlyphs">(arb. units)</text>
</g>
<g transform="translate(859.8 758.5) rotate(-90)">
<text x="0" y="0" font-family='"Liberation Serif", serif' font-size="21.5" textLength="41" lengthAdjust="spacingAndGlyphs" stroke="#000" stroke-width="0.15"><tspan font-style="italic">F</tspan>(<tspan font-style="italic">q</tspan>)</text>
<text x="45" y="0" font-family='"Liberation Sans", sans-serif' font-size="18" textLength="89.5" lengthAdjust="spacingAndGlyphs">(arb. units)</text>
</g>
<text x="0" y="0" font-family='"Liberation Sans", sans-serif' font-size="19.8" text-anchor="start" transform="translate(65.2 595) scale(1.01 1)" fill="#000" stroke="#000" stroke-width="0.15">metastable</text>
<text x="0" y="0" font-family='"Liberation Sans", sans-serif' font-size="19.8" text-anchor="start" transform="translate(242.3 776.3) scale(1.01 1)" fill="#000" stroke="#000" stroke-width="0.15">stable</text>
<text x="0" y="0" font-family='"Liberation Sans", sans-serif' font-size="19.8" text-anchor="start" transform="translate(580.2 691.3) scale(1.01 1)" fill="#000" stroke="#000" stroke-width="0.15">metastable</text>
<text x="0" y="0" font-family='"Liberation Sans", sans-serif' font-size="19.8" text-anchor="start" transform="translate(553.9 793) scale(1.01 1)" fill="#000" stroke="#000" stroke-width="0.15">stable</text>
<text x="0" y="0" font-family='"Liberation Sans", sans-serif' font-size="19.8" text-anchor="start" transform="translate(976 786.2) scale(1.01 1)" fill="#000" stroke="#000" stroke-width="0.15">stable</text>
</svg>
</body></html>
